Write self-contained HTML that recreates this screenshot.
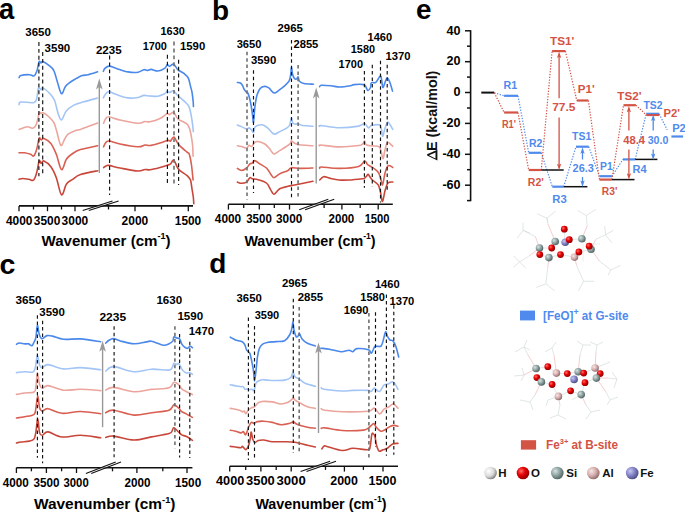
<!DOCTYPE html>
<html><head><meta charset="utf-8"><style>
html,body{margin:0;padding:0;background:#fff;}
body{width:685px;height:513px;overflow:hidden;font-family:"Liberation Sans",sans-serif;}
svg{display:block;}
text{font-family:"Liberation Sans",sans-serif;}
</style></head><body>
<svg width="685" height="513" viewBox="0 0 685 513">
<rect width="685" height="513" fill="#fff"/>
<path d="M19.1 77.6 C19.4 77.2 19.1 76.0 20.8 75.5 C22.6 75.0 27.4 74.6 29.6 74.7 C31.8 74.8 32.8 76.5 34.0 75.9 C35.2 75.3 36.0 73.4 36.9 71.0 C37.8 68.6 38.4 62.9 39.1 61.6 C39.8 60.3 40.4 63.0 41.0 63.0 C41.6 63.0 41.5 61.2 42.8 61.6 C44.1 62.0 46.8 63.8 48.6 65.2 C50.4 66.7 52.2 67.5 53.7 70.3 C55.2 73.1 56.1 78.1 57.4 82.0 C58.7 85.9 60.2 93.0 61.5 93.7 C62.8 94.4 63.9 88.4 65.4 86.4 C66.9 84.5 68.7 83.3 70.5 82.0 C72.3 80.7 74.5 79.5 76.4 78.4 C78.4 77.3 80.3 76.1 82.2 75.5 C84.1 74.9 85.4 75.3 88.0 74.7 C90.6 74.1 96.0 72.3 97.6 71.8" fill="none" stroke="#4a88ea" stroke-width="1.60" stroke-linejoin="round" stroke-linecap="round"/>
<path d="M19.1 104.7 C19.4 104.2 18.3 102.4 20.8 102.0 C23.3 101.6 31.3 103.3 34.0 102.5 C36.7 101.7 36.2 99.8 36.9 97.4 C37.6 95.0 37.7 89.2 38.4 87.9 C39.1 86.6 40.3 89.8 41.0 89.8 C41.7 89.8 41.3 87.2 42.8 87.9 C44.3 88.6 48.0 91.6 50.0 93.7 C52.0 95.8 53.1 97.0 54.5 100.3 C55.9 103.6 56.9 110.1 58.1 113.4 C59.3 116.7 60.2 120.3 61.5 120.0 C62.8 119.7 64.1 113.7 66.1 111.3 C68.1 108.9 70.5 107.0 73.4 105.4 C76.3 103.8 79.7 103.0 83.7 101.8 C87.7 100.6 95.3 98.7 97.6 98.1" fill="none" stroke="#a3c5f6" stroke-width="1.60" stroke-linejoin="round" stroke-linecap="round"/>
<path d="M19.2 129.4 C19.8 129.2 21.6 128.4 23.0 128.0 C24.4 127.6 26.1 126.8 27.7 126.8 C29.3 126.8 31.1 128.4 32.5 128.2 C33.9 127.9 35.0 126.9 35.9 125.3 C36.8 123.7 37.3 120.6 37.9 118.5 C38.5 116.4 38.7 113.3 39.3 112.5 C39.9 111.7 40.6 113.6 41.3 113.6 C41.9 113.6 41.9 112.1 43.2 112.7 C44.5 113.3 47.3 115.3 49.1 117.0 C50.9 118.7 52.7 120.4 54.0 122.9 C55.3 125.4 55.8 128.4 56.9 132.1 C58.0 135.8 59.5 144.2 60.8 145.3 C62.1 146.5 63.5 140.9 64.7 139.0 C65.9 137.1 66.4 135.5 68.1 134.1 C69.8 132.7 72.9 131.5 75.0 130.7 C77.1 129.9 78.3 130.1 80.5 129.4 C82.7 128.7 85.1 127.5 88.0 126.5 C90.9 125.5 96.1 123.7 97.7 123.1" fill="none" stroke="#eba59c" stroke-width="1.60" stroke-linejoin="round" stroke-linecap="round"/>
<path d="M19.0 152.8 C19.9 152.8 22.5 152.6 24.4 152.8 C26.3 153.1 29.1 153.8 30.6 154.3 C32.2 154.8 32.7 156.8 33.7 155.9 C34.7 155.0 35.9 151.9 36.8 148.9 C37.7 145.9 38.5 139.5 39.2 138.0 C39.9 136.5 40.4 139.9 41.2 140.0 C42.0 140.1 42.3 137.8 43.9 138.4 C45.5 139.0 48.8 140.8 50.9 143.4 C53.0 146.1 54.5 149.9 56.3 154.3 C58.1 158.7 59.8 168.8 61.5 169.6 C63.2 170.4 64.6 161.7 66.5 159.0 C68.4 156.3 70.4 155.1 72.7 153.5 C75.0 151.9 76.3 150.9 80.5 149.6 C84.7 148.3 94.8 146.3 97.7 145.7" fill="none" stroke="#d85f51" stroke-width="1.60" stroke-linejoin="round" stroke-linecap="round"/>
<path d="M19.0 179.3 C19.6 179.2 21.1 178.5 22.8 178.5 C24.5 178.5 27.2 179.1 29.0 179.3 C30.8 179.6 32.4 181.2 33.7 180.0 C35.0 178.8 35.9 175.5 36.8 172.3 C37.7 169.1 38.5 162.4 39.2 160.9 C39.9 159.4 40.4 163.4 41.2 163.4 C42.0 163.4 42.3 160.3 43.9 160.9 C45.5 161.5 48.8 164.0 50.9 166.8 C53.0 169.6 54.5 173.0 56.3 177.7 C58.1 182.4 59.8 193.8 61.5 194.9 C63.2 196.0 64.6 186.6 66.5 184.0 C68.4 181.4 70.4 180.9 72.7 179.3 C75.0 177.7 76.3 176.0 80.5 174.6 C84.7 173.2 94.8 171.3 97.7 170.7" fill="none" stroke="#c9473a" stroke-width="1.60" stroke-linejoin="round" stroke-linecap="round"/>
<path d="M103.3 71.4 C103.6 70.9 103.9 69.3 104.9 68.4 C105.9 67.5 107.2 66.1 109.1 66.1 C111.0 66.1 113.3 67.4 116.5 68.4 C119.7 69.4 124.5 71.3 128.1 71.9 C131.7 72.5 135.5 72.6 138.1 72.2 C140.7 71.8 142.4 70.0 143.9 69.7 C145.4 69.4 146.0 70.5 147.2 70.5 C148.4 70.5 149.5 69.3 151.3 69.4 C153.1 69.5 155.7 71.2 157.9 71.0 C160.1 70.8 163.0 69.5 164.6 68.4 C166.2 67.4 166.5 65.1 167.3 64.7 C168.1 64.3 168.4 66.4 169.5 66.3 C170.6 66.2 172.2 63.6 173.6 64.2 C175.0 64.8 176.3 68.3 178.0 69.8 C179.7 71.3 182.3 72.0 184.0 73.4 C185.7 74.8 187.2 75.9 188.3 78.1 C189.4 80.2 189.8 83.8 190.5 86.3 C191.2 88.8 191.8 90.7 192.2 93.3 C192.6 95.9 193.0 99.7 193.2 101.9 C193.4 104.1 193.4 105.8 193.4 106.6" fill="none" stroke="#4a88ea" stroke-width="1.60" stroke-linejoin="round" stroke-linecap="round"/>
<path d="M103.3 97.9 C103.7 97.2 104.8 94.8 105.8 93.7 C106.8 92.7 107.3 91.4 109.1 91.6 C110.9 91.8 113.3 93.5 116.5 94.6 C119.7 95.6 124.5 97.4 128.1 97.9 C131.7 98.4 135.5 97.9 138.1 97.5 C140.7 97.1 141.9 95.7 143.9 95.4 C145.9 95.2 147.7 95.9 150.0 96.0 C152.3 96.1 155.5 96.6 157.9 96.2 C160.3 95.8 163.0 94.5 164.6 93.7 C166.2 92.9 166.5 91.5 167.3 91.3 C168.1 91.1 168.4 92.6 169.5 92.5 C170.6 92.4 172.2 90.3 173.6 90.9 C175.0 91.5 176.1 94.1 178.0 95.9 C179.9 97.7 183.2 100.1 185.0 101.9 C186.8 103.7 188.0 104.5 189.0 106.6 C190.0 108.7 190.4 111.5 191.0 114.4 C191.6 117.3 192.1 120.9 192.5 123.8 C192.9 126.7 193.2 130.3 193.3 131.6" fill="none" stroke="#a3c5f6" stroke-width="1.60" stroke-linejoin="round" stroke-linecap="round"/>
<path d="M103.6 123.2 C103.9 122.5 104.6 120.1 105.5 119.0 C106.4 117.9 106.5 116.6 108.9 116.8 C111.3 117.0 115.2 118.9 120.0 120.0 C124.8 121.1 133.7 123.0 137.9 123.2 C142.1 123.5 143.0 121.7 145.0 121.5 C147.0 121.3 147.5 122.3 150.0 121.8 C152.5 121.3 157.1 119.9 160.0 118.5 C162.9 117.1 165.7 114.2 167.3 113.6 C168.9 113.0 168.4 114.9 169.5 114.7 C170.6 114.5 172.2 111.8 173.6 112.5 C175.0 113.2 176.3 117.4 178.0 119.0 C179.7 120.6 182.4 121.3 184.0 122.2 C185.6 123.1 186.6 123.5 187.5 124.5 C188.4 125.5 188.9 126.7 189.5 128.4 C190.1 130.1 190.5 131.9 191.0 134.7 C191.5 137.5 192.2 141.4 192.6 145.0 C192.9 148.6 193.0 154.4 193.1 156.3" fill="none" stroke="#eba59c" stroke-width="1.60" stroke-linejoin="round" stroke-linecap="round"/>
<path d="M103.6 146.8 C103.9 146.2 104.6 144.0 105.5 143.0 C106.4 142.0 106.5 140.8 108.9 141.0 C111.3 141.2 115.2 143.0 120.0 144.0 C124.8 145.0 133.7 146.6 137.9 146.8 C142.1 147.0 143.0 145.2 145.0 145.0 C147.0 144.8 147.5 145.8 150.0 145.5 C152.5 145.2 157.0 143.8 160.0 143.0 C163.0 142.2 166.2 140.7 167.9 140.4 C169.7 140.1 169.5 141.6 170.5 141.0 C171.5 140.4 172.6 136.5 173.9 137.1 C175.2 137.7 176.4 142.1 178.6 144.6 C180.8 147.1 185.3 150.5 187.1 152.1 C188.9 153.7 188.6 152.2 189.3 154.3 C190.0 156.5 190.9 160.7 191.5 165.0 C192.1 169.3 192.8 177.5 193.1 180.0" fill="none" stroke="#d85f51" stroke-width="1.60" stroke-linejoin="round" stroke-linecap="round"/>
<path d="M103.6 167.6 C104.0 167.3 105.1 166.4 106.0 166.0 C106.9 165.6 106.6 165.1 108.9 165.4 C111.2 165.7 115.2 167.1 120.0 168.0 C124.8 168.9 133.7 170.8 137.9 171.0 C142.1 171.2 143.0 169.7 145.0 169.5 C147.0 169.3 147.5 170.1 150.0 169.8 C152.5 169.5 157.0 168.3 160.0 167.5 C163.0 166.7 166.2 165.6 167.9 165.0 C169.7 164.4 169.5 164.8 170.5 164.0 C171.5 163.2 172.6 159.4 173.9 160.3 C175.2 161.2 176.4 166.7 178.6 169.3 C180.8 171.9 185.1 173.9 187.1 175.7 C189.1 177.5 189.7 177.8 190.5 180.0 C191.3 182.2 191.5 186.2 192.0 189.0 C192.5 191.8 193.0 194.5 193.3 197.0 C193.6 199.5 193.7 202.7 193.8 203.8" fill="none" stroke="#c9473a" stroke-width="1.60" stroke-linejoin="round" stroke-linecap="round"/>
<line x1="38.9" y1="42.0" x2="38.9" y2="176.2" stroke="#111" stroke-width="1.15" stroke-dasharray="3.9 3.0"/>
<line x1="42.7" y1="52.0" x2="42.7" y2="176.2" stroke="#111" stroke-width="1.15" stroke-dasharray="3.9 3.0"/>
<line x1="109.6" y1="55.6" x2="109.6" y2="195.0" stroke="#111" stroke-width="1.15" stroke-dasharray="3.9 3.0"/>
<line x1="167.4" y1="54.8" x2="167.4" y2="185.6" stroke="#111" stroke-width="1.15" stroke-dasharray="3.9 3.0"/>
<line x1="174.0" y1="41.6" x2="174.0" y2="186.0" stroke="#707070" stroke-width="1.6" stroke-dasharray="3.9 3.0"/>
<line x1="178.6" y1="59.8" x2="178.6" y2="185.0" stroke="#111" stroke-width="1.15" stroke-dasharray="3.9 3.0"/>
<line x1="99.3" y1="85.4" x2="99.3" y2="173.0" stroke="#999" stroke-width="1.4"/>
<polygon points="99.3,78.4 102.6,89.4 99.3,86.7 96.0,89.4" fill="#999"/>
<line x1="19.0" y1="205.9" x2="193.0" y2="205.9" stroke="#111" stroke-width="1.6"/>
<line x1="19.0" y1="205.9" x2="19.0" y2="211.2" stroke="#111" stroke-width="1.3"/>
<line x1="47.5" y1="205.9" x2="47.5" y2="211.2" stroke="#111" stroke-width="1.3"/>
<line x1="75.0" y1="205.9" x2="75.0" y2="211.2" stroke="#111" stroke-width="1.3"/>
<line x1="135.0" y1="205.9" x2="135.0" y2="211.2" stroke="#111" stroke-width="1.3"/>
<line x1="188.3" y1="205.9" x2="188.3" y2="211.2" stroke="#111" stroke-width="1.3"/>
<line x1="33.5" y1="205.9" x2="33.5" y2="209.5" stroke="#111" stroke-width="1.3"/>
<line x1="61.5" y1="205.9" x2="61.5" y2="209.5" stroke="#111" stroke-width="1.3"/>
<line x1="108.5" y1="205.9" x2="108.5" y2="209.5" stroke="#111" stroke-width="1.3"/>
<line x1="161.5" y1="205.9" x2="161.5" y2="209.5" stroke="#111" stroke-width="1.3"/>
<polygon points="82.7,210.6 112.5,201.0 118.6,201.0 88.8,210.6" fill="#fff" fill-opacity="0.55"/>
<line x1="82.7" y1="210.6" x2="112.5" y2="201.0" stroke="#111" stroke-width="1.1"/>
<line x1="88.8" y1="210.6" x2="118.6" y2="201.0" stroke="#111" stroke-width="1.1"/>
<text x="19.2" y="224.6" font-size="12.6" fill="#000" text-anchor="middle" textLength="26.6" lengthAdjust="spacingAndGlyphs" font-family="Liberation Sans, sans-serif" font-weight="bold" >4000</text>
<text x="47.1" y="224.6" font-size="12.6" fill="#000" text-anchor="middle" textLength="26.5" lengthAdjust="spacingAndGlyphs" font-family="Liberation Sans, sans-serif" font-weight="bold" >3500</text>
<text x="74.9" y="224.6" font-size="12.6" fill="#000" text-anchor="middle" textLength="26.6" lengthAdjust="spacingAndGlyphs" font-family="Liberation Sans, sans-serif" font-weight="bold" >3000</text>
<text x="134.9" y="224.6" font-size="12.6" fill="#000" text-anchor="middle" textLength="26.7" lengthAdjust="spacingAndGlyphs" font-family="Liberation Sans, sans-serif" font-weight="bold" >2000</text>
<text x="188.0" y="224.6" font-size="12.6" fill="#000" text-anchor="middle" textLength="26.4" lengthAdjust="spacingAndGlyphs" font-family="Liberation Sans, sans-serif" font-weight="bold" >1500</text>
<text x="38.1" y="36.0" font-size="11.5" fill="#000" text-anchor="middle" textLength="25.6" lengthAdjust="spacingAndGlyphs" font-family="Liberation Sans, sans-serif" font-weight="bold" >3650</text>
<text x="57.4" y="51.7" font-size="11.5" fill="#000" text-anchor="middle" textLength="25.6" lengthAdjust="spacingAndGlyphs" font-family="Liberation Sans, sans-serif" font-weight="bold" >3590</text>
<text x="108.8" y="54.0" font-size="11.5" fill="#000" text-anchor="middle" textLength="25.7" lengthAdjust="spacingAndGlyphs" font-family="Liberation Sans, sans-serif" font-weight="bold" >2235</text>
<text x="154.8" y="50.2" font-size="11.5" fill="#000" text-anchor="middle" textLength="24.3" lengthAdjust="spacingAndGlyphs" font-family="Liberation Sans, sans-serif" font-weight="bold" >1700</text>
<text x="172.7" y="35.3" font-size="11.5" fill="#000" text-anchor="middle" textLength="24.3" lengthAdjust="spacingAndGlyphs" font-family="Liberation Sans, sans-serif" font-weight="bold" >1630</text>
<text x="192.6" y="50.2" font-size="11.5" fill="#000" text-anchor="middle" textLength="25.3" lengthAdjust="spacingAndGlyphs" font-family="Liberation Sans, sans-serif" font-weight="bold" >1590</text>
<path d="M237.4 82.5 C237.9 82.6 239.7 82.5 240.5 83.0 C241.3 83.5 241.9 84.5 242.5 85.5 C243.1 86.5 243.4 88.0 244.0 89.0 C244.6 90.0 245.4 91.1 246.0 91.8 C246.6 92.5 247.2 92.0 247.8 93.0 C248.4 94.0 248.9 95.8 249.5 98.0 C250.1 100.2 250.7 103.2 251.2 106.0 C251.7 108.8 252.1 112.3 252.5 115.0 C252.9 117.7 253.1 123.7 253.5 122.2 C253.9 120.7 254.4 110.8 255.0 106.2 C255.6 101.6 256.3 97.4 257.2 94.5 C258.1 91.6 258.9 89.9 260.1 88.6 C261.3 87.2 263.1 86.5 264.5 86.4 C265.9 86.3 267.2 86.8 268.8 87.9 C270.4 89.0 272.3 92.6 274.0 93.0 C275.7 93.4 277.3 91.3 279.1 90.1 C280.9 88.9 283.2 87.3 284.9 85.7 C286.6 84.1 288.3 82.5 289.3 80.6 C290.3 78.6 290.4 76.3 290.8 74.0 C291.2 71.7 291.2 66.7 291.5 66.7 C291.8 66.7 292.0 72.0 292.5 74.0 C293.0 76.0 293.7 77.6 294.4 78.4 C295.1 79.2 296.0 79.3 296.6 79.1 C297.2 78.8 297.6 76.5 298.1 76.9 C298.6 77.3 298.5 80.2 299.5 81.3 C300.5 82.4 301.6 83.0 303.9 83.5 C306.2 84.0 311.8 84.1 313.4 84.2" fill="none" stroke="#4a88ea" stroke-width="1.60" stroke-linejoin="round" stroke-linecap="round"/>
<path d="M237.4 125.0 C238.1 125.3 240.1 125.9 241.6 126.6 C243.1 127.3 245.4 128.9 246.6 129.1 C247.8 129.3 248.2 127.8 249.0 127.9 C249.8 128.0 250.8 129.2 251.5 129.9 C252.2 130.7 252.9 132.8 253.5 132.4 C254.1 132.0 254.0 128.6 254.8 127.4 C255.6 126.2 256.8 125.7 258.2 125.3 C259.6 124.9 261.5 124.5 263.1 125.0 C264.8 125.5 266.3 126.8 268.1 128.3 C269.9 129.8 272.0 133.6 273.9 134.1 C275.8 134.6 277.6 132.6 279.7 131.6 C281.8 130.6 284.6 129.4 286.3 128.3 C288.0 127.2 288.9 126.7 289.7 125.0 C290.5 123.3 290.8 118.6 291.3 118.3 C291.9 118.0 292.2 122.3 293.0 123.3 C293.8 124.3 295.5 124.1 296.3 124.1 C297.1 124.1 297.2 123.1 298.0 123.3 C298.8 123.5 298.8 124.8 301.3 125.3 C303.8 125.8 311.0 126.1 312.9 126.3" fill="none" stroke="#a3c5f6" stroke-width="1.60" stroke-linejoin="round" stroke-linecap="round"/>
<path d="M237.4 145.7 C238.1 145.8 240.1 146.1 241.6 146.5 C243.1 146.9 245.4 148.4 246.6 148.2 C247.8 148.0 248.2 145.5 249.0 145.2 C249.8 144.9 250.5 147.0 251.5 146.5 C252.5 146.0 253.7 143.2 254.8 142.4 C255.9 141.6 256.5 141.2 258.2 141.5 C259.9 141.8 262.9 142.8 264.8 144.0 C266.7 145.2 268.3 147.3 269.8 149.0 C271.3 150.7 272.2 153.7 273.9 154.0 C275.5 154.3 277.6 151.8 279.7 150.6 C281.8 149.3 284.5 147.7 286.3 146.5 C288.1 145.3 289.7 144.2 290.5 143.2 C291.3 142.2 290.6 140.7 291.3 140.7 C292.0 140.7 293.2 142.5 294.6 143.2 C296.0 143.9 296.6 144.4 299.6 144.8 C302.7 145.2 310.7 145.5 312.9 145.7" fill="none" stroke="#eba59c" stroke-width="1.60" stroke-linejoin="round" stroke-linecap="round"/>
<path d="M237.4 168.4 C238.1 168.8 240.1 170.6 241.6 170.5 C243.1 170.4 245.2 169.1 246.6 168.0 C248.0 166.9 248.9 164.7 249.9 163.9 C250.9 163.1 251.6 163.7 252.4 163.1 C253.2 162.5 253.6 160.5 254.8 160.6 C256.0 160.7 257.9 162.7 259.8 163.9 C261.7 165.1 264.6 166.3 266.4 168.0 C268.2 169.7 269.4 172.3 270.6 173.9 C271.9 175.5 272.4 177.7 273.9 177.7 C275.4 177.7 277.3 175.1 279.7 173.9 C282.1 172.7 286.1 171.5 288.0 170.5 C289.9 169.5 289.4 168.0 291.3 167.7 C293.2 167.3 296.0 168.3 299.6 168.4 C303.2 168.5 310.7 168.1 312.9 168.0" fill="none" stroke="#d85f51" stroke-width="1.60" stroke-linejoin="round" stroke-linecap="round"/>
<path d="M237.4 182.1 C238.1 182.3 240.1 183.3 241.6 183.3 C243.1 183.3 245.2 183.0 246.6 182.1 C248.0 181.2 248.9 178.2 249.9 177.7 C250.9 177.1 251.0 178.5 252.4 178.8 C253.8 179.1 255.9 179.0 258.2 179.7 C260.5 180.4 264.3 181.3 266.4 183.0 C268.5 184.7 269.4 187.7 270.6 189.6 C271.9 191.5 272.4 194.3 273.9 194.2 C275.4 194.1 277.3 190.1 279.7 188.8 C282.1 187.5 285.5 186.9 288.0 186.3 C290.5 185.7 290.5 185.8 294.6 185.0 C298.8 184.2 309.8 181.9 312.9 181.3" fill="none" stroke="#c9473a" stroke-width="1.60" stroke-linejoin="round" stroke-linecap="round"/>
<path d="M319.6 86.7 C319.9 86.5 319.5 85.5 321.4 85.3 C323.3 85.1 327.9 85.5 331.0 85.8 C334.1 86.1 336.6 87.0 339.8 87.0 C343.0 87.0 348.0 86.2 350.4 85.8 C352.8 85.4 351.7 84.8 353.9 84.6 C356.1 84.4 361.5 84.2 363.5 84.6 C365.5 84.9 365.1 85.7 365.8 86.7 C366.5 87.7 367.1 90.4 367.9 90.5 C368.7 90.6 369.9 88.8 370.5 87.5 C371.1 86.2 370.5 83.7 371.4 82.8 C372.3 81.9 374.3 83.4 375.8 82.3 C377.3 81.2 379.2 76.5 380.2 76.1 C381.2 75.6 381.2 77.7 381.6 79.6 C382.0 81.5 382.2 87.0 382.8 87.5 C383.4 88.0 384.4 83.9 385.1 82.3 C385.8 80.7 386.4 77.9 387.2 77.9 C388.0 77.9 388.9 80.1 389.8 82.3 C390.7 84.5 392.1 89.6 392.5 91.1" fill="none" stroke="#4a88ea" stroke-width="1.60" stroke-linejoin="round" stroke-linecap="round"/>
<path d="M319.7 126.4 C319.9 126.2 317.4 125.3 320.7 125.5 C323.9 125.7 332.9 127.7 339.2 127.8 C345.5 127.9 354.5 126.8 358.7 126.1 C362.9 125.4 363.0 123.2 364.6 123.5 C366.2 123.8 367.4 127.7 368.5 128.0 C369.6 128.3 369.4 125.9 371.4 125.5 C373.3 125.1 378.3 123.7 380.2 125.5 C382.1 127.3 381.7 135.7 382.5 136.2 C383.3 136.7 384.1 130.7 385.0 128.4 C385.9 126.1 386.8 122.9 387.6 122.2 C388.4 121.5 389.0 123.3 389.9 124.5 C390.8 125.7 392.3 128.6 392.8 129.4" fill="none" stroke="#a3c5f6" stroke-width="1.60" stroke-linejoin="round" stroke-linecap="round"/>
<path d="M319.7 145.9 C319.9 145.8 317.4 144.8 320.7 145.0 C323.9 145.2 332.9 146.8 339.2 146.9 C345.5 147.0 354.8 146.0 358.7 145.5 C362.6 145.0 361.6 144.7 362.6 144.0 C363.6 143.3 364.0 140.9 364.6 141.1 C365.2 141.3 365.2 144.2 366.5 145.0 C367.8 145.8 370.3 145.6 372.4 145.9 C374.5 146.2 377.7 145.9 379.2 146.9 C380.7 147.9 380.5 149.9 381.2 151.8 C381.9 153.8 382.5 158.9 383.1 158.6 C383.7 158.3 384.2 152.5 385.0 149.8 C385.8 147.1 386.3 143.0 387.6 142.4 C388.9 141.8 391.9 145.7 392.8 146.3" fill="none" stroke="#eba59c" stroke-width="1.60" stroke-linejoin="round" stroke-linecap="round"/>
<path d="M319.7 168.4 C320.0 168.2 318.4 167.0 321.7 167.0 C324.9 167.0 333.0 168.5 339.2 168.4 C345.4 168.3 354.5 167.6 358.7 166.4 C362.9 165.2 363.1 161.4 364.6 161.1 C366.1 160.8 366.2 163.4 367.5 164.5 C368.8 165.6 370.6 166.1 372.4 167.4 C374.2 168.7 376.8 170.5 378.2 172.3 C379.6 174.1 379.9 176.0 380.6 178.1 C381.3 180.2 381.8 185.7 382.5 184.9 C383.2 184.1 384.1 176.4 385.0 173.2 C385.9 170.0 386.7 166.8 388.0 165.8 C389.3 164.8 392.0 167.1 392.8 167.4" fill="none" stroke="#d85f51" stroke-width="1.60" stroke-linejoin="round" stroke-linecap="round"/>
<path d="M319.7 180.0 C320.4 179.4 322.0 177.0 323.6 176.7 C325.2 176.4 326.9 177.5 329.5 178.1 C332.1 178.7 335.9 179.7 339.2 180.0 C342.4 180.3 345.1 180.2 349.0 180.0 C352.9 179.8 360.0 179.0 362.6 178.7 C365.2 178.4 364.0 178.5 364.6 178.1 C365.2 177.7 365.9 176.8 366.5 176.2 C367.1 175.5 367.6 174.2 368.1 174.2 C368.6 174.2 368.8 175.2 369.5 176.2 C370.2 177.2 370.9 178.6 372.4 180.0 C373.8 181.4 376.8 182.8 378.2 184.9 C379.6 187.0 379.9 189.9 380.6 192.7 C381.3 195.5 381.8 201.8 382.5 201.5 C383.2 201.2 384.1 193.9 385.0 190.8 C385.9 187.7 386.7 184.5 388.0 183.0 C389.3 181.5 392.0 182.2 392.8 182.0" fill="none" stroke="#c9473a" stroke-width="1.60" stroke-linejoin="round" stroke-linecap="round"/>
<line x1="247.0" y1="51.8" x2="247.0" y2="199.5" stroke="#707070" stroke-width="1.6" stroke-dasharray="3.5 2.9"/>
<line x1="253.5" y1="70.3" x2="253.5" y2="192.9" stroke="#111" stroke-width="1.15" stroke-dasharray="3.5 2.9"/>
<line x1="291.5" y1="40.1" x2="291.5" y2="198.8" stroke="#111" stroke-width="1.15" stroke-dasharray="3.5 2.9"/>
<line x1="298.1" y1="65.0" x2="298.1" y2="199.6" stroke="#707070" stroke-width="1.6" stroke-dasharray="3.5 2.9"/>
<line x1="364.4" y1="70.9" x2="364.4" y2="187.8" stroke="#111" stroke-width="1.15" stroke-dasharray="3.5 2.9"/>
<line x1="372.3" y1="64.7" x2="372.3" y2="186.5" stroke="#111" stroke-width="1.15" stroke-dasharray="3.5 2.9"/>
<line x1="380.5" y1="60.7" x2="380.5" y2="202.5" stroke="#111" stroke-width="1.15" stroke-dasharray="3.5 2.9"/>
<line x1="387.2" y1="64.7" x2="387.2" y2="192.7" stroke="#111" stroke-width="1.15" stroke-dasharray="3.5 2.9"/>
<line x1="316.2" y1="94.5" x2="316.2" y2="183.5" stroke="#999" stroke-width="1.4"/>
<polygon points="316.2,87.5 319.5,98.5 316.2,95.8 312.9,98.5" fill="#999"/>
<line x1="228.4" y1="204.3" x2="392.8" y2="204.3" stroke="#111" stroke-width="1.6"/>
<line x1="228.4" y1="204.3" x2="228.4" y2="209.6" stroke="#111" stroke-width="1.3"/>
<line x1="259.3" y1="204.3" x2="259.3" y2="209.6" stroke="#111" stroke-width="1.3"/>
<line x1="289.5" y1="204.3" x2="289.5" y2="209.6" stroke="#111" stroke-width="1.3"/>
<line x1="341.9" y1="204.3" x2="341.9" y2="209.6" stroke="#111" stroke-width="1.3"/>
<line x1="378.2" y1="204.3" x2="378.2" y2="209.6" stroke="#111" stroke-width="1.3"/>
<line x1="243.7" y1="204.3" x2="243.7" y2="207.9" stroke="#111" stroke-width="1.3"/>
<line x1="274.3" y1="204.3" x2="274.3" y2="207.9" stroke="#111" stroke-width="1.3"/>
<line x1="324.1" y1="204.3" x2="324.1" y2="207.9" stroke="#111" stroke-width="1.3"/>
<line x1="360.2" y1="204.3" x2="360.2" y2="207.9" stroke="#111" stroke-width="1.3"/>
<polygon points="299.2,209.7 328.3,199.2 334.2,199.2 305.1,209.7" fill="#fff" fill-opacity="0.55"/>
<line x1="299.2" y1="209.7" x2="328.3" y2="199.2" stroke="#111" stroke-width="1.1"/>
<line x1="305.1" y1="209.7" x2="334.2" y2="199.2" stroke="#111" stroke-width="1.1"/>
<text x="228.0" y="223.2" font-size="12.6" fill="#000" text-anchor="middle" textLength="26.4" lengthAdjust="spacingAndGlyphs" font-family="Liberation Sans, sans-serif" font-weight="bold" >4000</text>
<text x="259.0" y="223.2" font-size="12.6" fill="#000" text-anchor="middle" textLength="25.6" lengthAdjust="spacingAndGlyphs" font-family="Liberation Sans, sans-serif" font-weight="bold" >3500</text>
<text x="289.2" y="223.2" font-size="12.6" fill="#000" text-anchor="middle" textLength="26.3" lengthAdjust="spacingAndGlyphs" font-family="Liberation Sans, sans-serif" font-weight="bold" >3000</text>
<text x="341.4" y="223.2" font-size="12.6" fill="#000" text-anchor="middle" textLength="25.7" lengthAdjust="spacingAndGlyphs" font-family="Liberation Sans, sans-serif" font-weight="bold" >2000</text>
<text x="377.1" y="223.2" font-size="12.6" fill="#000" text-anchor="middle" textLength="24.9" lengthAdjust="spacingAndGlyphs" font-family="Liberation Sans, sans-serif" font-weight="bold" >1500</text>
<text x="249.1" y="47.6" font-size="11.5" fill="#000" text-anchor="middle" textLength="24.9" lengthAdjust="spacingAndGlyphs" font-family="Liberation Sans, sans-serif" font-weight="bold" >3650</text>
<text x="263.6" y="64.2" font-size="11.5" fill="#000" text-anchor="middle" textLength="25.2" lengthAdjust="spacingAndGlyphs" font-family="Liberation Sans, sans-serif" font-weight="bold" >3590</text>
<text x="290.2" y="32.4" font-size="11.5" fill="#000" text-anchor="middle" textLength="25.3" lengthAdjust="spacingAndGlyphs" font-family="Liberation Sans, sans-serif" font-weight="bold" >2965</text>
<text x="305.9" y="47.6" font-size="11.5" fill="#000" text-anchor="middle" textLength="24.9" lengthAdjust="spacingAndGlyphs" font-family="Liberation Sans, sans-serif" font-weight="bold" >2855</text>
<text x="350.8" y="68.2" font-size="11.5" fill="#000" text-anchor="middle" textLength="24.4" lengthAdjust="spacingAndGlyphs" font-family="Liberation Sans, sans-serif" font-weight="bold" >1700</text>
<text x="362.9" y="53.0" font-size="11.5" fill="#000" text-anchor="middle" textLength="24.2" lengthAdjust="spacingAndGlyphs" font-family="Liberation Sans, sans-serif" font-weight="bold" >1580</text>
<text x="379.8" y="41.4" font-size="11.5" fill="#000" text-anchor="middle" textLength="24.5" lengthAdjust="spacingAndGlyphs" font-family="Liberation Sans, sans-serif" font-weight="bold" >1460</text>
<text x="397.9" y="60.0" font-size="11.5" fill="#000" text-anchor="middle" textLength="25.0" lengthAdjust="spacingAndGlyphs" font-family="Liberation Sans, sans-serif" font-weight="bold" >1370</text>
<path d="M16.5 344.3 C17.0 344.1 17.9 343.1 19.3 343.0 C20.7 342.9 23.3 343.8 24.8 343.9 C26.3 344.0 27.3 343.6 28.5 343.9 C29.7 344.2 31.0 346.0 31.9 345.7 C32.8 345.4 33.4 343.4 34.1 342.0 C34.8 340.6 35.4 340.2 35.9 337.4 C36.4 334.6 36.8 325.9 37.4 325.4 C38.0 324.9 38.5 332.4 39.3 334.6 C40.0 336.8 40.6 338.5 41.9 338.7 C43.2 338.9 45.2 336.0 47.0 335.6 C48.8 335.2 49.8 335.5 52.6 336.1 C55.4 336.7 59.1 338.8 63.7 339.3 C68.3 339.8 74.2 338.5 80.4 338.9 C86.6 339.3 97.3 341.2 100.7 341.7" fill="none" stroke="#4a88ea" stroke-width="1.60" stroke-linejoin="round" stroke-linecap="round"/>
<path d="M16.5 372.6 C17.9 372.5 22.0 371.8 24.8 371.7 C27.6 371.6 31.3 372.9 33.1 372.0 C34.9 371.1 34.9 368.9 35.6 366.1 C36.3 363.3 36.7 355.1 37.4 355.0 C38.1 354.9 38.8 363.1 39.6 365.2 C40.4 367.3 41.0 367.7 42.4 367.6 C43.8 367.5 44.5 364.4 48.0 364.6 C51.5 364.8 58.3 368.4 63.7 368.9 C69.1 369.4 74.2 367.5 80.4 367.6 C86.6 367.8 97.3 369.4 100.7 369.8" fill="none" stroke="#a3c5f6" stroke-width="1.60" stroke-linejoin="round" stroke-linecap="round"/>
<path d="M16.5 394.4 C17.9 394.2 21.9 393.4 24.8 393.0 C27.7 392.6 32.2 393.1 34.1 392.0 C36.0 390.9 35.4 389.6 35.9 386.5 C36.4 383.4 36.8 373.8 37.4 373.5 C38.0 373.2 38.8 382.1 39.6 384.6 C40.4 387.1 41.0 388.1 42.4 388.3 C43.8 388.5 44.5 385.3 48.0 385.6 C51.5 385.9 58.3 389.6 63.7 390.2 C69.1 390.8 74.2 389.2 80.4 389.3 C86.6 389.4 97.3 390.4 100.7 390.6" fill="none" stroke="#eba59c" stroke-width="1.60" stroke-linejoin="round" stroke-linecap="round"/>
<path d="M16.5 418.0 C17.9 417.8 21.9 417.3 24.8 416.7 C27.7 416.1 32.2 415.8 34.1 414.3 C36.0 412.8 35.3 410.9 35.9 407.8 C36.5 404.7 37.2 395.7 37.8 395.7 C38.4 395.7 38.8 405.2 39.6 407.8 C40.4 410.4 41.0 411.0 42.4 411.1 C43.8 411.2 44.8 408.3 48.0 408.7 C51.2 409.1 56.5 412.8 61.9 413.3 C67.3 413.8 73.9 411.4 80.4 411.5 C86.9 411.6 97.3 413.3 100.7 413.7" fill="none" stroke="#d85f51" stroke-width="1.60" stroke-linejoin="round" stroke-linecap="round"/>
<path d="M16.5 443.0 C17.3 442.8 19.0 442.3 21.1 442.0 C23.2 441.7 27.2 441.6 29.4 441.1 C31.6 440.6 33.0 440.4 34.1 438.9 C35.2 437.4 35.3 435.2 35.9 431.9 C36.5 428.6 37.2 418.8 37.8 418.9 C38.4 419.0 38.8 430.1 39.6 432.8 C40.4 435.5 41.0 435.4 42.4 435.2 C43.8 435.0 44.8 431.6 48.0 431.9 C51.2 432.2 56.5 436.4 61.9 437.0 C67.3 437.6 73.9 435.1 80.4 435.2 C86.9 435.3 97.3 437.4 100.7 437.8" fill="none" stroke="#c9473a" stroke-width="1.60" stroke-linejoin="round" stroke-linecap="round"/>
<path d="M105.7 343.2 C106.2 342.8 107.3 341.3 108.6 340.5 C109.9 339.7 111.5 338.5 113.5 338.6 C115.5 338.7 116.9 340.0 120.3 340.9 C123.7 341.8 129.6 343.6 134.0 343.8 C138.4 344.0 143.7 342.3 146.6 341.9 C149.5 341.5 148.7 340.8 151.5 341.3 C154.3 341.9 160.3 344.8 163.2 345.2 C166.1 345.6 167.4 344.5 169.0 343.8 C170.6 343.1 172.1 342.0 172.9 340.9 C173.7 339.8 173.2 337.5 173.9 337.0 C174.6 336.5 175.8 337.7 176.8 338.0 C177.8 338.3 178.9 338.0 179.7 339.0 C180.5 340.0 180.9 342.4 181.7 343.8 C182.5 345.2 183.6 346.4 184.6 347.1 C185.6 347.9 186.6 348.5 187.5 348.3 C188.4 348.1 189.3 346.3 190.1 346.2 C190.9 346.1 192.0 347.4 192.4 347.7" fill="none" stroke="#4a88ea" stroke-width="1.60" stroke-linejoin="round" stroke-linecap="round"/>
<path d="M105.7 371.1 C107.0 370.4 108.8 366.5 113.5 366.6 C118.2 366.7 127.7 371.3 134.0 371.7 C140.3 372.1 145.7 369.5 151.5 369.2 C157.3 368.9 165.5 370.5 169.0 370.1 C172.5 369.7 171.6 368.1 172.4 367.0 C173.2 365.9 173.2 363.7 173.9 363.3 C174.6 362.9 175.5 364.4 176.3 364.5 C177.1 364.6 177.9 363.3 178.6 363.6 C179.3 363.9 179.8 365.2 180.5 366.3 C181.2 367.4 181.5 368.9 182.5 370.0 C183.5 371.1 185.4 372.7 186.6 373.1 C187.8 373.5 188.5 372.4 189.5 372.6 C190.5 372.8 191.9 374.1 192.4 374.4" fill="none" stroke="#a3c5f6" stroke-width="1.60" stroke-linejoin="round" stroke-linecap="round"/>
<path d="M105.7 390.1 C107.0 389.7 108.8 387.1 113.5 387.4 C118.2 387.7 127.7 391.4 134.0 391.7 C140.3 392.0 145.7 390.0 151.5 389.4 C157.3 388.8 165.3 389.0 169.0 387.8 C172.7 386.6 172.3 382.8 173.9 382.3 C175.5 381.8 177.5 383.8 178.8 384.9 C180.1 386.0 180.4 387.7 181.7 388.8 C183.0 389.9 184.8 390.7 186.6 391.7 C188.4 392.7 191.4 394.1 192.4 394.6" fill="none" stroke="#eba59c" stroke-width="1.60" stroke-linejoin="round" stroke-linecap="round"/>
<path d="M105.7 412.7 C107.0 412.3 108.8 409.8 113.5 410.2 C118.2 410.6 127.7 414.7 134.0 415.1 C140.3 415.5 145.7 413.5 151.5 412.7 C157.3 411.9 165.3 411.5 169.0 410.2 C172.7 408.9 172.3 405.2 173.9 404.9 C175.5 404.6 177.5 407.1 178.8 408.2 C180.1 409.3 180.4 410.6 181.7 411.6 C183.0 412.6 184.8 413.1 186.6 414.1 C188.4 415.1 191.4 416.8 192.4 417.4" fill="none" stroke="#d85f51" stroke-width="1.60" stroke-linejoin="round" stroke-linecap="round"/>
<path d="M105.7 437.5 C107.0 437.3 108.8 435.7 113.5 436.1 C118.2 436.5 127.7 439.9 134.0 440.0 C140.3 440.1 145.7 438.0 151.5 436.9 C157.3 435.8 165.6 434.6 169.0 433.6 C172.4 432.6 171.2 432.0 172.0 431.0 C172.8 430.0 172.8 427.5 173.9 427.7 C175.0 427.9 177.5 431.0 178.8 432.2 C180.1 433.4 180.4 434.2 181.7 434.9 C183.0 435.6 184.8 435.6 186.6 436.5 C188.4 437.4 191.4 439.8 192.4 440.4" fill="none" stroke="#c9473a" stroke-width="1.60" stroke-linejoin="round" stroke-linecap="round"/>
<line x1="37.4" y1="315.2" x2="37.4" y2="457.8" stroke="#111" stroke-width="1.15" stroke-dasharray="3.5 2.9"/>
<line x1="42.6" y1="320.7" x2="42.6" y2="463.3" stroke="#111" stroke-width="1.15" stroke-dasharray="3.5 2.9"/>
<line x1="114.1" y1="326.3" x2="114.1" y2="457.2" stroke="#111" stroke-width="1.15" stroke-dasharray="3.5 2.9"/>
<line x1="174.9" y1="326.3" x2="174.9" y2="448.2" stroke="#707070" stroke-width="1.6" stroke-dasharray="3.5 2.9"/>
<line x1="179.6" y1="334.0" x2="179.6" y2="457.5" stroke="#111" stroke-width="1.15" stroke-dasharray="3.5 2.9"/>
<line x1="189.8" y1="341.8" x2="189.8" y2="458.0" stroke="#111" stroke-width="1.15" stroke-dasharray="3.5 2.9"/>
<line x1="102.6" y1="347.8" x2="102.6" y2="427.2" stroke="#999" stroke-width="1.4"/>
<polygon points="102.6,340.8 105.9,351.8 102.6,349.1 99.3,351.8" fill="#999"/>
<line x1="16.4" y1="467.7" x2="192.4" y2="467.7" stroke="#111" stroke-width="1.6"/>
<line x1="16.4" y1="467.7" x2="16.4" y2="473.0" stroke="#111" stroke-width="1.3"/>
<line x1="46.4" y1="467.7" x2="46.4" y2="473.0" stroke="#111" stroke-width="1.3"/>
<line x1="76.5" y1="467.7" x2="76.5" y2="473.0" stroke="#111" stroke-width="1.3"/>
<line x1="136.9" y1="467.7" x2="136.9" y2="473.0" stroke="#111" stroke-width="1.3"/>
<line x1="187.0" y1="467.7" x2="187.0" y2="473.0" stroke="#111" stroke-width="1.3"/>
<line x1="31.4" y1="467.7" x2="31.4" y2="471.3" stroke="#111" stroke-width="1.3"/>
<line x1="61.6" y1="467.7" x2="61.6" y2="471.3" stroke="#111" stroke-width="1.3"/>
<line x1="112.5" y1="467.7" x2="112.5" y2="471.3" stroke="#111" stroke-width="1.3"/>
<line x1="162.8" y1="467.7" x2="162.8" y2="471.3" stroke="#111" stroke-width="1.3"/>
<polygon points="85.9,473.4 115.7,462.0 121.0,462.0 91.2,473.4" fill="#fff" fill-opacity="0.55"/>
<line x1="85.9" y1="473.4" x2="115.7" y2="462.0" stroke="#111" stroke-width="1.1"/>
<line x1="91.2" y1="473.4" x2="121.0" y2="462.0" stroke="#111" stroke-width="1.1"/>
<text x="15.8" y="487.0" font-size="12.6" fill="#000" text-anchor="middle" textLength="26.1" lengthAdjust="spacingAndGlyphs" font-family="Liberation Sans, sans-serif" font-weight="bold" >4000</text>
<text x="46.5" y="487.0" font-size="12.6" fill="#000" text-anchor="middle" textLength="26.0" lengthAdjust="spacingAndGlyphs" font-family="Liberation Sans, sans-serif" font-weight="bold" >3500</text>
<text x="76.1" y="487.0" font-size="12.6" fill="#000" text-anchor="middle" textLength="25.2" lengthAdjust="spacingAndGlyphs" font-family="Liberation Sans, sans-serif" font-weight="bold" >3000</text>
<text x="137.6" y="487.0" font-size="12.6" fill="#000" text-anchor="middle" textLength="26.0" lengthAdjust="spacingAndGlyphs" font-family="Liberation Sans, sans-serif" font-weight="bold" >2000</text>
<text x="188.1" y="487.0" font-size="12.6" fill="#000" text-anchor="middle" textLength="26.2" lengthAdjust="spacingAndGlyphs" font-family="Liberation Sans, sans-serif" font-weight="bold" >1500</text>
<text x="28.5" y="304.0" font-size="11.5" fill="#000" text-anchor="middle" textLength="26.2" lengthAdjust="spacingAndGlyphs" font-family="Liberation Sans, sans-serif" font-weight="bold" >3650</text>
<text x="52.1" y="316.0" font-size="11.5" fill="#000" text-anchor="middle" textLength="25.6" lengthAdjust="spacingAndGlyphs" font-family="Liberation Sans, sans-serif" font-weight="bold" >3590</text>
<text x="112.8" y="321.0" font-size="11.5" fill="#000" text-anchor="middle" textLength="26.7" lengthAdjust="spacingAndGlyphs" font-family="Liberation Sans, sans-serif" font-weight="bold" >2235</text>
<text x="169.3" y="304.3" font-size="11.5" fill="#000" text-anchor="middle" textLength="25.8" lengthAdjust="spacingAndGlyphs" font-family="Liberation Sans, sans-serif" font-weight="bold" >1630</text>
<text x="190.3" y="320.3" font-size="11.5" fill="#000" text-anchor="middle" textLength="25.8" lengthAdjust="spacingAndGlyphs" font-family="Liberation Sans, sans-serif" font-weight="bold" >1590</text>
<text x="201.4" y="335.3" font-size="11.5" fill="#000" text-anchor="middle" textLength="25.3" lengthAdjust="spacingAndGlyphs" font-family="Liberation Sans, sans-serif" font-weight="bold" >1470</text>
<path d="M230.3 337.2 C231.1 337.6 233.4 339.0 235.0 339.7 C236.6 340.4 238.7 340.7 240.0 341.1 C241.3 341.5 242.2 341.6 243.0 342.3 C243.8 343.0 244.4 343.9 245.0 345.1 C245.6 346.4 245.9 348.7 246.5 349.8 C247.1 350.9 247.9 351.1 248.5 351.8 C249.1 352.5 249.4 352.0 250.0 353.8 C250.6 355.6 251.4 359.7 252.0 362.6 C252.6 365.5 253.1 368.0 253.5 371.1 C253.9 374.2 254.1 381.0 254.5 381.0 C254.9 381.0 255.5 375.1 256.0 371.0 C256.5 366.9 256.9 360.4 257.5 356.6 C258.1 352.8 258.6 350.2 259.5 348.1 C260.4 346.0 261.6 344.9 263.0 343.9 C264.4 342.9 265.9 342.7 268.0 342.3 C270.1 341.9 273.0 341.9 275.8 341.6 C278.6 341.3 282.2 341.9 284.6 340.7 C287.0 339.5 288.7 336.7 289.9 334.5 C291.1 332.3 291.5 329.6 292.0 327.5 C292.5 325.4 292.7 321.6 293.0 321.9 C293.3 322.2 293.4 326.9 293.9 329.3 C294.4 331.7 295.4 335.1 296.0 336.3 C296.6 337.5 297.1 337.0 297.7 336.6 C298.3 336.2 298.8 333.3 299.5 333.7 C300.2 334.1 300.8 337.3 302.1 338.9 C303.4 340.5 305.2 342.1 307.4 343.3 C309.6 344.5 314.0 345.5 315.3 345.9" fill="none" stroke="#4a88ea" stroke-width="1.60" stroke-linejoin="round" stroke-linecap="round"/>
<path d="M230.3 384.7 C231.2 384.9 234.2 385.5 236.0 385.9 C237.8 386.2 239.8 386.7 241.0 386.8 C242.2 386.9 242.3 386.2 243.0 386.6 C243.7 387.0 244.3 388.8 245.0 389.2 C245.7 389.6 246.3 388.9 247.0 389.0 C247.7 389.1 248.2 389.9 249.0 389.9 C249.8 389.9 251.2 389.1 252.0 389.2 C252.8 389.3 253.3 391.5 254.0 390.5 C254.7 389.5 255.2 384.8 256.0 383.2 C256.8 381.6 257.8 381.4 259.0 380.8 C260.2 380.2 261.6 379.9 263.0 379.8 C264.4 379.7 265.2 380.0 267.1 380.1 C269.0 380.2 271.2 380.5 274.1 380.5 C277.0 380.5 281.8 380.6 284.6 380.1 C287.4 379.6 289.3 378.8 290.7 377.5 C292.1 376.2 292.3 372.3 293.0 372.2 C293.7 372.1 293.9 375.5 294.8 376.6 C295.7 377.7 296.8 377.5 298.6 378.7 C300.4 379.9 302.8 382.4 305.6 383.6 C308.4 384.9 313.7 385.8 315.3 386.2" fill="none" stroke="#a3c5f6" stroke-width="1.60" stroke-linejoin="round" stroke-linecap="round"/>
<path d="M230.3 408.4 C231.2 408.5 233.8 408.9 235.5 409.3 C237.2 409.7 239.6 410.3 240.8 410.7 C242.0 411.1 241.9 411.8 242.5 411.9 C243.1 411.9 243.8 410.7 244.3 411.0 C244.8 411.3 245.1 413.8 245.7 413.7 C246.3 413.6 246.9 411.7 247.8 410.7 C248.7 409.7 250.1 408.6 251.3 407.9 C252.5 407.2 253.6 407.6 254.8 406.7 C256.0 405.8 256.8 403.5 258.3 402.6 C259.8 401.7 261.3 401.5 263.6 401.4 C265.9 401.3 269.4 401.5 272.3 401.9 C275.2 402.3 278.5 403.9 281.1 404.0 C283.7 404.1 286.4 403.0 288.1 402.3 C289.9 401.6 290.7 400.3 291.6 399.6 C292.5 398.9 292.8 397.8 293.4 397.9 C294.0 398.0 293.9 399.3 295.1 400.2 C296.3 401.1 298.3 402.0 300.4 403.1 C302.4 404.2 304.9 405.8 307.4 406.7 C309.9 407.6 314.0 408.1 315.3 408.4" fill="none" stroke="#eba59c" stroke-width="1.60" stroke-linejoin="round" stroke-linecap="round"/>
<path d="M230.3 430.3 C231.2 430.4 233.8 430.8 235.5 431.2 C237.2 431.6 239.5 432.8 240.8 432.9 C242.1 433.0 242.6 431.4 243.4 431.7 C244.2 432.0 244.8 435.5 245.7 434.7 C246.6 433.9 247.8 428.9 248.7 426.8 C249.6 424.8 250.4 423.0 251.3 422.4 C252.2 421.8 252.9 423.4 253.9 423.3 C254.9 423.2 255.8 422.0 257.4 421.6 C259.0 421.2 261.1 421.1 263.6 421.2 C266.1 421.3 269.4 421.8 272.3 422.4 C275.2 423.0 278.2 424.5 281.1 424.7 C284.0 424.9 287.8 423.8 289.9 423.3 C291.9 422.8 292.2 421.8 293.4 421.9 C294.6 422.0 294.6 423.3 296.9 424.2 C299.2 425.1 304.3 426.5 307.4 427.2 C310.5 427.9 314.0 428.0 315.3 428.2" fill="none" stroke="#d85f51" stroke-width="1.60" stroke-linejoin="round" stroke-linecap="round"/>
<path d="M230.3 446.4 C231.2 446.5 233.8 446.8 235.5 447.0 C237.2 447.2 239.6 447.9 240.8 447.8 C242.0 447.7 241.7 446.1 242.5 446.4 C243.3 446.7 244.7 449.8 245.7 449.6 C246.7 449.4 247.9 447.2 248.7 445.2 C249.5 443.1 250.0 439.5 250.4 437.3 C250.8 435.1 250.9 431.8 251.3 432.1 C251.7 432.4 252.1 437.4 252.7 439.1 C253.3 440.9 253.9 442.4 254.8 442.6 C255.7 442.8 256.8 440.9 258.3 440.5 C259.8 440.1 261.3 439.8 263.6 440.0 C265.9 440.2 269.1 441.4 272.3 441.7 C275.5 442.0 279.0 441.6 282.8 441.7 C286.6 441.8 291.0 441.6 295.1 442.2 C299.2 442.8 304.0 444.4 307.4 445.2 C310.8 446.0 314.0 446.7 315.3 447.0" fill="none" stroke="#c9473a" stroke-width="1.60" stroke-linejoin="round" stroke-linecap="round"/>
<path d="M320.7 348.2 C322.2 348.4 326.1 348.6 329.5 349.2 C332.9 349.8 337.9 351.5 341.2 351.7 C344.4 351.9 347.1 350.2 349.0 350.2 C350.9 350.2 351.6 352.0 352.9 351.7 C354.2 351.4 354.2 348.9 356.8 348.6 C359.4 348.3 366.1 349.1 368.5 349.8 C370.9 350.6 370.4 353.5 371.4 353.1 C372.4 352.7 373.5 348.4 374.3 347.3 C375.1 346.2 375.2 346.5 376.3 346.3 C377.4 346.1 380.0 347.2 381.2 345.9 C382.4 344.6 383.0 340.9 383.7 338.5 C384.4 336.1 385.0 332.0 385.6 331.7 C386.2 331.4 386.9 335.1 387.6 336.5 C388.3 337.9 389.0 339.3 389.9 340.0 C390.8 340.7 391.8 339.8 392.8 340.8 C393.8 341.9 394.8 343.6 395.8 346.3 C396.8 349.0 398.2 355.2 398.7 357.0" fill="none" stroke="#4a88ea" stroke-width="1.60" stroke-linejoin="round" stroke-linecap="round"/>
<path d="M321.2 387.6 C321.7 387.9 320.5 388.7 324.0 389.3 C327.5 389.9 337.4 390.8 342.2 391.0 C347.0 391.2 348.6 390.5 352.9 390.4 C357.2 390.3 364.8 390.2 367.9 390.4 C370.9 390.6 370.2 391.9 371.2 391.5 C372.2 391.1 373.3 388.6 374.0 388.2 C374.7 387.8 374.6 388.3 375.5 388.9 C376.4 389.4 378.3 392.1 379.7 391.5 C381.1 390.9 382.6 386.2 384.0 385.0 C385.4 383.8 386.9 384.5 388.3 384.0 C389.7 383.5 391.4 381.7 392.6 381.8 C393.8 381.9 394.5 383.4 395.4 384.6 C396.3 385.9 397.6 388.5 398.0 389.3" fill="none" stroke="#a3c5f6" stroke-width="1.60" stroke-linejoin="round" stroke-linecap="round"/>
<path d="M321.2 408.6 C321.8 408.9 321.5 409.8 325.0 410.3 C328.5 410.8 335.1 411.7 342.2 411.8 C349.3 411.9 362.5 411.8 367.9 411.2 C373.3 410.6 372.4 407.7 374.4 408.2 C376.4 408.7 378.1 413.9 379.7 414.0 C381.3 414.1 382.4 410.4 384.0 409.1 C385.6 407.9 387.8 407.4 389.4 406.5 C390.9 405.6 391.9 403.6 393.3 403.9 C394.7 404.2 397.2 407.5 398.0 408.2" fill="none" stroke="#eba59c" stroke-width="1.60" stroke-linejoin="round" stroke-linecap="round"/>
<path d="M321.2 428.4 C321.8 428.3 321.5 427.5 325.0 427.9 C328.5 428.2 335.8 430.1 342.2 430.5 C348.6 430.9 359.1 430.6 363.6 430.1 C368.1 429.6 367.6 428.4 369.0 427.5 C370.4 426.6 371.4 425.3 372.2 424.7 C373.0 424.1 373.3 423.1 374.0 423.6 C374.7 424.1 375.4 426.2 376.5 427.5 C377.6 428.8 379.4 430.8 380.8 431.2 C382.2 431.6 383.5 430.5 385.1 429.7 C386.7 428.9 389.0 426.9 390.5 426.2 C392.0 425.5 392.9 425.4 394.1 425.4 C395.4 425.4 397.4 426.1 398.0 426.2" fill="none" stroke="#d85f51" stroke-width="1.60" stroke-linejoin="round" stroke-linecap="round"/>
<path d="M321.8 449.0 C322.2 448.5 323.3 446.7 324.0 446.2 C324.7 445.7 323.1 445.5 326.1 446.2 C329.1 446.9 337.7 450.1 342.2 450.5 C346.7 450.9 348.6 448.4 352.9 448.3 C357.2 448.2 365.0 450.1 367.9 449.8 C370.8 449.6 369.5 449.4 370.1 446.8 C370.8 444.2 371.3 436.5 371.8 434.4 C372.3 432.2 372.8 433.5 373.3 433.9 C373.8 434.2 374.5 434.6 375.0 436.5 C375.5 438.4 375.8 442.7 376.5 445.1 C377.2 447.5 378.0 450.3 379.1 451.1 C380.2 451.9 381.6 450.3 383.0 449.8 C384.4 449.3 385.7 449.3 387.3 448.3 C388.9 447.3 390.8 444.8 392.6 444.0 C394.4 443.2 397.1 443.5 398.0 443.4" fill="none" stroke="#c9473a" stroke-width="1.60" stroke-linejoin="round" stroke-linecap="round"/>
<line x1="248.4" y1="317.6" x2="248.4" y2="460.1" stroke="#111" stroke-width="1.15" stroke-dasharray="3.5 2.9"/>
<line x1="254.5" y1="325.9" x2="254.5" y2="459.2" stroke="#111" stroke-width="1.15" stroke-dasharray="3.5 2.9"/>
<line x1="293.3" y1="298.8" x2="293.3" y2="453.1" stroke="#111" stroke-width="1.15" stroke-dasharray="3.5 2.9"/>
<line x1="299.2" y1="307.0" x2="299.2" y2="452.2" stroke="#707070" stroke-width="1.6" stroke-dasharray="3.5 2.9"/>
<line x1="368.9" y1="313.1" x2="368.9" y2="460.1" stroke="#707070" stroke-width="1.6" stroke-dasharray="3.5 2.9"/>
<line x1="375.5" y1="312.2" x2="375.5" y2="447.0" stroke="#111" stroke-width="1.15" stroke-dasharray="3.5 2.9"/>
<line x1="386.4" y1="294.6" x2="386.4" y2="455.8" stroke="#111" stroke-width="1.15" stroke-dasharray="3.5 2.9"/>
<line x1="393.8" y1="305.3" x2="393.8" y2="454.8" stroke="#111" stroke-width="1.15" stroke-dasharray="3.5 2.9"/>
<line x1="318.5" y1="349.4" x2="318.5" y2="433.0" stroke="#999" stroke-width="1.4"/>
<polygon points="318.5,342.4 321.8,353.4 318.5,350.7 315.2,353.4" fill="#999"/>
<line x1="229.7" y1="466.3" x2="398.0" y2="466.3" stroke="#111" stroke-width="1.6"/>
<line x1="229.7" y1="466.3" x2="229.7" y2="471.6" stroke="#111" stroke-width="1.3"/>
<line x1="260.9" y1="466.3" x2="260.9" y2="471.6" stroke="#111" stroke-width="1.3"/>
<line x1="291.2" y1="466.3" x2="291.2" y2="471.6" stroke="#111" stroke-width="1.3"/>
<line x1="344.4" y1="466.3" x2="344.4" y2="471.6" stroke="#111" stroke-width="1.3"/>
<line x1="383.0" y1="466.3" x2="383.0" y2="471.6" stroke="#111" stroke-width="1.3"/>
<line x1="245.7" y1="466.3" x2="245.7" y2="469.9" stroke="#111" stroke-width="1.3"/>
<line x1="276.2" y1="466.3" x2="276.2" y2="469.9" stroke="#111" stroke-width="1.3"/>
<line x1="325.5" y1="466.3" x2="325.5" y2="469.9" stroke="#111" stroke-width="1.3"/>
<line x1="363.4" y1="466.3" x2="363.4" y2="469.9" stroke="#111" stroke-width="1.3"/>
<polygon points="300.6,471.4 330.1,461.2 336.0,461.2 306.5,471.4" fill="#fff" fill-opacity="0.55"/>
<line x1="300.6" y1="471.4" x2="330.1" y2="461.2" stroke="#111" stroke-width="1.1"/>
<line x1="306.5" y1="471.4" x2="336.0" y2="461.2" stroke="#111" stroke-width="1.1"/>
<text x="230.2" y="485.2" font-size="12.6" fill="#000" text-anchor="middle" textLength="28.3" lengthAdjust="spacingAndGlyphs" font-family="Liberation Sans, sans-serif" font-weight="bold" >4000</text>
<text x="260.4" y="485.2" font-size="12.6" fill="#000" text-anchor="middle" textLength="28.9" lengthAdjust="spacingAndGlyphs" font-family="Liberation Sans, sans-serif" font-weight="bold" >3500</text>
<text x="291.1" y="485.2" font-size="12.6" fill="#000" text-anchor="middle" textLength="29.3" lengthAdjust="spacingAndGlyphs" font-family="Liberation Sans, sans-serif" font-weight="bold" >3000</text>
<text x="344.1" y="485.2" font-size="12.6" fill="#000" text-anchor="middle" textLength="27.7" lengthAdjust="spacingAndGlyphs" font-family="Liberation Sans, sans-serif" font-weight="bold" >2000</text>
<text x="382.5" y="485.2" font-size="12.6" fill="#000" text-anchor="middle" textLength="27.8" lengthAdjust="spacingAndGlyphs" font-family="Liberation Sans, sans-serif" font-weight="bold" >1500</text>
<text x="249.2" y="302.3" font-size="11.5" fill="#000" text-anchor="middle" textLength="25.3" lengthAdjust="spacingAndGlyphs" font-family="Liberation Sans, sans-serif" font-weight="bold" >3650</text>
<text x="266.9" y="318.5" font-size="11.5" fill="#000" text-anchor="middle" textLength="24.5" lengthAdjust="spacingAndGlyphs" font-family="Liberation Sans, sans-serif" font-weight="bold" >3590</text>
<text x="294.6" y="286.9" font-size="11.5" fill="#000" text-anchor="middle" textLength="25.3" lengthAdjust="spacingAndGlyphs" font-family="Liberation Sans, sans-serif" font-weight="bold" >2965</text>
<text x="310.4" y="300.5" font-size="11.5" fill="#000" text-anchor="middle" textLength="25.4" lengthAdjust="spacingAndGlyphs" font-family="Liberation Sans, sans-serif" font-weight="bold" >2855</text>
<text x="356.1" y="314.1" font-size="11.5" fill="#000" text-anchor="middle" textLength="24.8" lengthAdjust="spacingAndGlyphs" font-family="Liberation Sans, sans-serif" font-weight="bold" >1690</text>
<text x="372.6" y="300.5" font-size="11.5" fill="#000" text-anchor="middle" textLength="24.6" lengthAdjust="spacingAndGlyphs" font-family="Liberation Sans, sans-serif" font-weight="bold" >1580</text>
<text x="387.3" y="287.8" font-size="11.5" fill="#000" text-anchor="middle" textLength="24.8" lengthAdjust="spacingAndGlyphs" font-family="Liberation Sans, sans-serif" font-weight="bold" >1460</text>
<text x="401.9" y="305.0" font-size="11.5" fill="#000" text-anchor="middle" textLength="24.9" lengthAdjust="spacingAndGlyphs" font-family="Liberation Sans, sans-serif" font-weight="bold" >1370</text>
<text x="-1.0" y="18.6" font-size="29.5" font-family="Liberation Sans, sans-serif" font-weight="bold" fill="#000" textLength="15.2" lengthAdjust="spacingAndGlyphs">a</text>
<text x="212.1" y="20.3" font-size="28" font-family="Liberation Sans, sans-serif" font-weight="bold" fill="#000">b</text>
<text x="-0.6" y="274.2" font-size="28.5" font-family="Liberation Sans, sans-serif" font-weight="bold" fill="#000">c</text>
<text x="209.2" y="272.9" font-size="28" font-family="Liberation Sans, sans-serif" font-weight="bold" fill="#000">d</text>
<text x="416.0" y="19.3" font-size="27.8" font-family="Liberation Sans, sans-serif" font-weight="bold" fill="#000">e</text>
<text x="41.5" y="245.8" font-size="14.0" font-family="Liberation Sans, sans-serif" font-weight="bold" fill="#000" textLength="129.1" lengthAdjust="spacingAndGlyphs">Wavenumer (cm<tspan font-size="8.4" dy="-6.8">-1</tspan><tspan dy="6.8">)</tspan></text>
<text x="244.4" y="245.5" font-size="14.0" font-family="Liberation Sans, sans-serif" font-weight="bold" fill="#000" textLength="131.2" lengthAdjust="spacingAndGlyphs">Wavenumber (cm<tspan font-size="8.4" dy="-6.8">-1</tspan><tspan dy="6.8">)</tspan></text>
<text x="33.9" y="509.3" font-size="14.0" font-family="Liberation Sans, sans-serif" font-weight="bold" fill="#000" textLength="141.6" lengthAdjust="spacingAndGlyphs">Wavenumber (cm<tspan font-size="8.4" dy="-6.8">-1</tspan><tspan dy="6.8">)</tspan></text>
<text x="255.4" y="508.5" font-size="14.0" font-family="Liberation Sans, sans-serif" font-weight="bold" fill="#000" textLength="131.1" lengthAdjust="spacingAndGlyphs">Wavenumber (cm<tspan font-size="8.4" dy="-6.8">-1</tspan><tspan dy="6.8">)</tspan></text>
<line x1="470.6" y1="30.2" x2="470.6" y2="201.2" stroke="#111" stroke-width="1.6"/>
<line x1="465.0" y1="30.8" x2="470.6" y2="30.8" stroke="#111" stroke-width="1.5"/>
<line x1="467.0" y1="46.2" x2="470.6" y2="46.2" stroke="#111" stroke-width="1.5"/>
<line x1="465.0" y1="61.7" x2="470.6" y2="61.7" stroke="#111" stroke-width="1.5"/>
<line x1="467.0" y1="77.1" x2="470.6" y2="77.1" stroke="#111" stroke-width="1.5"/>
<line x1="465.0" y1="92.5" x2="470.6" y2="92.5" stroke="#111" stroke-width="1.5"/>
<line x1="467.0" y1="108.0" x2="470.6" y2="108.0" stroke="#111" stroke-width="1.5"/>
<line x1="465.0" y1="123.4" x2="470.6" y2="123.4" stroke="#111" stroke-width="1.5"/>
<line x1="467.0" y1="138.9" x2="470.6" y2="138.9" stroke="#111" stroke-width="1.5"/>
<line x1="465.0" y1="154.3" x2="470.6" y2="154.3" stroke="#111" stroke-width="1.5"/>
<line x1="467.0" y1="169.7" x2="470.6" y2="169.7" stroke="#111" stroke-width="1.5"/>
<line x1="465.0" y1="185.2" x2="470.6" y2="185.2" stroke="#111" stroke-width="1.5"/>
<line x1="467.0" y1="200.6" x2="470.6" y2="200.6" stroke="#111" stroke-width="1.5"/>
<text x="460.6" y="34.5" font-size="12.6" font-family="Liberation Sans, sans-serif" font-weight="bold" fill="#000" text-anchor="end">40</text>
<text x="460.6" y="65.4" font-size="12.6" font-family="Liberation Sans, sans-serif" font-weight="bold" fill="#000" text-anchor="end">20</text>
<text x="460.6" y="96.2" font-size="12.6" font-family="Liberation Sans, sans-serif" font-weight="bold" fill="#000" text-anchor="end">0</text>
<text x="460.6" y="127.1" font-size="12.6" font-family="Liberation Sans, sans-serif" font-weight="bold" fill="#000" text-anchor="end">-20</text>
<text x="460.6" y="158.0" font-size="12.6" font-family="Liberation Sans, sans-serif" font-weight="bold" fill="#000" text-anchor="end">-40</text>
<text x="460.6" y="188.9" font-size="12.6" font-family="Liberation Sans, sans-serif" font-weight="bold" fill="#000" text-anchor="end">-60</text>
<g transform="translate(437.4,160.6) rotate(-90)"><path fill-rule="evenodd" fill="#111" d="M0.2 0 L5.0 -10.3 L6.4 -10.3 L10.9 0 Z M2.2 -1.9 L5.3 -8.4 L8.2 -1.9 Z"/><text x="9.6" y="0" font-size="14" font-family="Liberation Sans, sans-serif" font-weight="bold" fill="#111" textLength="80.4" lengthAdjust="spacingAndGlyphs">E (kcal/mol)</text></g>
<line x1="481.3" y1="92.6" x2="494.3" y2="92.6" stroke="#111" stroke-width="2.0"/>
<line x1="494.3" y1="92.8" x2="504.1" y2="95.8" stroke="#4f8aec" stroke-width="1.2" stroke-dasharray="1.3 1.5"/>
<line x1="494.3" y1="92.8" x2="504.1" y2="112.5" stroke="#d35345" stroke-width="1.2" stroke-dasharray="1.3 1.5"/>
<line x1="518.0" y1="95.8" x2="528.7" y2="152.8" stroke="#4f8aec" stroke-width="1.2" stroke-dasharray="1.3 1.5"/>
<line x1="518.0" y1="112.5" x2="528.7" y2="170.0" stroke="#d35345" stroke-width="1.2" stroke-dasharray="1.3 1.5"/>
<line x1="541.3" y1="152.8" x2="552.3" y2="186.7" stroke="#4f8aec" stroke-width="1.2" stroke-dasharray="1.3 1.5"/>
<line x1="541.3" y1="170.0" x2="552.1" y2="51.1" stroke="#d35345" stroke-width="1.2" stroke-dasharray="1.3 1.5"/>
<line x1="565.4" y1="51.1" x2="576.8" y2="100.5" stroke="#d35345" stroke-width="1.2" stroke-dasharray="1.3 1.5"/>
<line x1="563.7" y1="186.7" x2="576.0" y2="146.7" stroke="#4f8aec" stroke-width="1.2" stroke-dasharray="1.3 1.5"/>
<line x1="588.8" y1="146.7" x2="599.4" y2="176.3" stroke="#4f8aec" stroke-width="1.2" stroke-dasharray="1.3 1.5"/>
<line x1="588.4" y1="100.5" x2="599.4" y2="179.6" stroke="#d35345" stroke-width="1.2" stroke-dasharray="1.3 1.5"/>
<line x1="611.9" y1="176.3" x2="622.9" y2="159.4" stroke="#4f8aec" stroke-width="1.2" stroke-dasharray="1.3 1.5"/>
<line x1="611.9" y1="179.6" x2="623.5" y2="105.2" stroke="#d35345" stroke-width="1.2" stroke-dasharray="1.3 1.5"/>
<line x1="635.2" y1="159.4" x2="646.2" y2="113.8" stroke="#4f8aec" stroke-width="1.2" stroke-dasharray="1.3 1.5"/>
<line x1="635.9" y1="105.2" x2="646.2" y2="114.8" stroke="#d35345" stroke-width="1.2" stroke-dasharray="1.3 1.5"/>
<line x1="659.3" y1="114.0" x2="667.2" y2="129.8" stroke="#4f8aec" stroke-width="1.2" stroke-dasharray="1.3 1.5"/>
<line x1="504.1" y1="95.8" x2="518.0" y2="95.8" stroke="#4f8aec" stroke-width="2.2"/>
<line x1="504.1" y1="112.5" x2="518.0" y2="112.5" stroke="#d35345" stroke-width="2.2"/>
<line x1="528.7" y1="152.8" x2="541.3" y2="152.8" stroke="#4f8aec" stroke-width="2.2"/>
<line x1="528.7" y1="170.0" x2="541.3" y2="170.0" stroke="#d35345" stroke-width="2.2"/>
<line x1="541.3" y1="170.0" x2="563.7" y2="170.0" stroke="#111" stroke-width="1.5"/>
<line x1="552.3" y1="186.7" x2="563.7" y2="186.7" stroke="#4f8aec" stroke-width="2.2"/>
<line x1="563.7" y1="186.7" x2="587.4" y2="186.7" stroke="#111" stroke-width="1.5"/>
<line x1="552.1" y1="51.1" x2="565.4" y2="51.1" stroke="#d35345" stroke-width="2.2"/>
<line x1="576.8" y1="100.5" x2="588.4" y2="100.5" stroke="#d35345" stroke-width="2.2"/>
<line x1="576.0" y1="146.7" x2="588.8" y2="146.7" stroke="#4f8aec" stroke-width="2.2"/>
<line x1="599.4" y1="176.2" x2="611.9" y2="176.2" stroke="#4f8aec" stroke-width="2.2"/>
<line x1="599.4" y1="179.6" x2="611.9" y2="179.6" stroke="#d35345" stroke-width="2.2"/>
<line x1="611.9" y1="179.6" x2="634.5" y2="179.6" stroke="#111" stroke-width="1.5"/>
<line x1="622.9" y1="159.4" x2="635.2" y2="159.4" stroke="#4f8aec" stroke-width="2.2"/>
<line x1="635.2" y1="159.4" x2="657.4" y2="159.4" stroke="#111" stroke-width="1.5"/>
<line x1="623.5" y1="105.2" x2="635.9" y2="105.2" stroke="#d35345" stroke-width="2.2"/>
<line x1="646.2" y1="115.0" x2="659.3" y2="115.0" stroke="#d35345" stroke-width="2.2"/>
<line x1="646.2" y1="113.4" x2="659.3" y2="113.4" stroke="#4f8aec" stroke-width="1.4"/>
<line x1="671.4" y1="136.5" x2="683.1" y2="136.5" stroke="#4f8aec" stroke-width="2.2"/>
<line x1="559.1" y1="55.6" x2="559.1" y2="98.3" stroke="#d35345" stroke-width="1.3"/>
<line x1="559.1" y1="117.6" x2="559.1" y2="166.3" stroke="#d35345" stroke-width="1.3"/>
<path d="M559.1 51.6 L561.2 58.1 L559.1 56.8 L557.0 58.1 Z" fill="#d35345"/>
<path d="M559.1 170.3 L561.2 163.8 L559.1 165.1 L557.0 163.8 Z" fill="#d35345"/>
<line x1="582.5" y1="151.2" x2="582.5" y2="159.5" stroke="#4f8aec" stroke-width="1.3"/>
<line x1="582.5" y1="177.0" x2="582.5" y2="183.0" stroke="#4f8aec" stroke-width="1.3"/>
<path d="M582.5 147.2 L584.6 153.7 L582.5 152.4 L580.4 153.7 Z" fill="#4f8aec"/>
<path d="M582.5 187.0 L584.6 180.5 L582.5 181.8 L580.4 180.5 Z" fill="#4f8aec"/>
<line x1="628.9" y1="109.7" x2="628.9" y2="130.5" stroke="#d35345" stroke-width="1.3"/>
<line x1="628.9" y1="149.5" x2="628.9" y2="175.8" stroke="#d35345" stroke-width="1.3"/>
<path d="M628.9 105.7 L631.0 112.2 L628.9 110.9 L626.8 112.2 Z" fill="#d35345"/>
<path d="M628.9 179.8 L631.0 173.3 L628.9 174.6 L626.8 173.3 Z" fill="#d35345"/>
<line x1="653.2" y1="118.5" x2="653.2" y2="130.5" stroke="#4f8aec" stroke-width="1.3"/>
<line x1="653.2" y1="149.5" x2="653.2" y2="155.9" stroke="#4f8aec" stroke-width="1.3"/>
<path d="M653.2 114.5 L655.3 121.0 L653.2 119.7 L651.1 121.0 Z" fill="#4f8aec"/>
<path d="M653.2 159.9 L655.3 153.4 L653.2 154.7 L651.1 153.4 Z" fill="#4f8aec"/>
<text x="510.4" y="89.0" font-size="11.5" font-family="Liberation Sans, sans-serif" font-weight="bold" fill="#4f8aec" text-anchor="middle" textLength="13.6" lengthAdjust="spacingAndGlyphs">R1</text>
<text x="508.9" y="128.2" font-size="11.5" font-family="Liberation Sans, sans-serif" font-weight="bold" fill="#d35345" text-anchor="middle" textLength="14.0" lengthAdjust="spacingAndGlyphs">R1'</text>
<text x="535.7" y="147.2" font-size="11.5" font-family="Liberation Sans, sans-serif" font-weight="bold" fill="#4f8aec" text-anchor="middle" textLength="13.4" lengthAdjust="spacingAndGlyphs">R2</text>
<text x="535.8" y="186.0" font-size="11.5" font-family="Liberation Sans, sans-serif" font-weight="bold" fill="#d35345" text-anchor="middle" textLength="16.0" lengthAdjust="spacingAndGlyphs">R2'</text>
<text x="559.5" y="202.5" font-size="11.5" font-family="Liberation Sans, sans-serif" font-weight="bold" fill="#4f8aec" text-anchor="middle" textLength="14.5" lengthAdjust="spacingAndGlyphs">R3</text>
<text x="562.2" y="45.3" font-size="11.5" font-family="Liberation Sans, sans-serif" font-weight="bold" fill="#d35345" text-anchor="middle" textLength="24.4" lengthAdjust="spacingAndGlyphs">TS1'</text>
<text x="563.8" y="111.2" font-size="11.5" font-family="Liberation Sans, sans-serif" font-weight="bold" fill="#d35345" text-anchor="middle" textLength="23.3" lengthAdjust="spacingAndGlyphs">77.5</text>
<text x="586.3" y="93.0" font-size="11.5" font-family="Liberation Sans, sans-serif" font-weight="bold" fill="#d35345" text-anchor="middle" textLength="16.9" lengthAdjust="spacingAndGlyphs">P1'</text>
<text x="581.7" y="140.4" font-size="11.5" font-family="Liberation Sans, sans-serif" font-weight="bold" fill="#4f8aec" text-anchor="middle" textLength="19.2" lengthAdjust="spacingAndGlyphs">TS1</text>
<text x="583.2" y="172.3" font-size="11.5" font-family="Liberation Sans, sans-serif" font-weight="bold" fill="#4f8aec" text-anchor="middle" textLength="21.3" lengthAdjust="spacingAndGlyphs">26.3</text>
<text x="606.4" y="169.8" font-size="11.5" font-family="Liberation Sans, sans-serif" font-weight="bold" fill="#4f8aec" text-anchor="middle" textLength="12.6" lengthAdjust="spacingAndGlyphs">P1</text>
<text x="609.6" y="194.8" font-size="11.5" font-family="Liberation Sans, sans-serif" font-weight="bold" fill="#d35345" text-anchor="middle" textLength="15.5" lengthAdjust="spacingAndGlyphs">R3'</text>
<text x="629.4" y="99.9" font-size="11.5" font-family="Liberation Sans, sans-serif" font-weight="bold" fill="#d35345" text-anchor="middle" textLength="24.2" lengthAdjust="spacingAndGlyphs">TS2'</text>
<text x="634.1" y="143.6" font-size="11.5" font-family="Liberation Sans, sans-serif" font-weight="bold" fill="#d35345" text-anchor="middle" textLength="21.8" lengthAdjust="spacingAndGlyphs">48.4</text>
<text x="653.0" y="108.5" font-size="11.5" font-family="Liberation Sans, sans-serif" font-weight="bold" fill="#4f8aec" text-anchor="middle" textLength="19.0" lengthAdjust="spacingAndGlyphs">TS2</text>
<text x="671.8" y="116.9" font-size="11.5" font-family="Liberation Sans, sans-serif" font-weight="bold" fill="#d35345" text-anchor="middle" textLength="16.4" lengthAdjust="spacingAndGlyphs">P2'</text>
<text x="679.0" y="131.9" font-size="11.5" font-family="Liberation Sans, sans-serif" font-weight="bold" fill="#4f8aec" text-anchor="middle" textLength="13.7" lengthAdjust="spacingAndGlyphs">P2</text>
<text x="639.5" y="173.0" font-size="11.5" font-family="Liberation Sans, sans-serif" font-weight="bold" fill="#4f8aec" text-anchor="middle" textLength="14.1" lengthAdjust="spacingAndGlyphs">R4</text>
<text x="658.0" y="143.6" font-size="11.5" font-family="Liberation Sans, sans-serif" font-weight="bold" fill="#4f8aec" text-anchor="middle" textLength="20.7" lengthAdjust="spacingAndGlyphs">30.0</text>
<rect x="520" y="310.6" width="15" height="9.8" fill="#4f8aec"/>
<text x="543" y="319.9" font-size="12.5" font-family="Liberation Sans, sans-serif" font-weight="bold" fill="#4f8aec" textLength="85.5" lengthAdjust="spacingAndGlyphs">[FeO]<tspan font-size="9.5" dy="-4.6">+</tspan><tspan dy="4.6"> at G-site</tspan></text>
<rect x="520.9" y="440.2" width="15.2" height="9.4" fill="#d35345"/>
<text x="546" y="449.2" font-size="12.5" font-family="Liberation Sans, sans-serif" font-weight="bold" fill="#d35345" textLength="72" lengthAdjust="spacingAndGlyphs">Fe<tspan font-size="8" dy="-5">3+</tspan><tspan dy="5"> at B-site</tspan></text>
<defs>
<radialGradient id="gH" cx="0.35" cy="0.35" r="0.7"><stop offset="0" stop-color="#ffffff"/><stop offset="0.6" stop-color="#d8d8d8"/><stop offset="1" stop-color="#7a7a7a"/></radialGradient>
<radialGradient id="gO" cx="0.35" cy="0.35" r="0.7"><stop offset="0" stop-color="#ff7070"/><stop offset="0.45" stop-color="#e80000"/><stop offset="1" stop-color="#8a0000"/></radialGradient>
<radialGradient id="gSi" cx="0.35" cy="0.35" r="0.7"><stop offset="0" stop-color="#d8e2e2"/><stop offset="0.5" stop-color="#8fa3a3"/><stop offset="1" stop-color="#4e6060"/></radialGradient>
<radialGradient id="gAl" cx="0.35" cy="0.35" r="0.7"><stop offset="0" stop-color="#f6e6e6"/><stop offset="0.5" stop-color="#d8b0b0"/><stop offset="1" stop-color="#8a6868"/></radialGradient>
<radialGradient id="gFe" cx="0.35" cy="0.35" r="0.7"><stop offset="0" stop-color="#c8c8f2"/><stop offset="0.5" stop-color="#8484c8"/><stop offset="1" stop-color="#4a4a80"/></radialGradient>
</defs>
<circle cx="490.5" cy="473" r="6.3" fill="url(#gH)"/>
<text x="498.2" y="477.4" font-size="11.5" font-family="Liberation Sans, sans-serif" font-weight="bold" fill="#111">H</text>
<circle cx="523.0" cy="473" r="6.3" fill="url(#gO)"/>
<text x="531.0" y="477.4" font-size="11.5" font-family="Liberation Sans, sans-serif" font-weight="bold" fill="#111">O</text>
<circle cx="557.3" cy="473" r="6.3" fill="url(#gSi)"/>
<text x="566.3" y="477.4" font-size="11.5" font-family="Liberation Sans, sans-serif" font-weight="bold" fill="#111">Si</text>
<circle cx="593.3" cy="473" r="6.3" fill="url(#gAl)"/>
<text x="602.3" y="477.4" font-size="11.5" font-family="Liberation Sans, sans-serif" font-weight="bold" fill="#111">Al</text>
<circle cx="632.2" cy="473" r="6.3" fill="url(#gFe)"/>
<text x="640.3" y="477.4" font-size="11.5" font-family="Liberation Sans, sans-serif" font-weight="bold" fill="#111">Fe</text>
<line x1="555.2" y1="241.5" x2="548.0" y2="224.0" stroke="#f0b4b4" stroke-width="0.65"/>
<line x1="548.0" y1="224.0" x2="546.8" y2="218.1" stroke="#cfd8d8" stroke-width="0.65"/>
<line x1="546.8" y1="218.1" x2="537.2" y2="213.8" stroke="#cfd8d8" stroke-width="0.65"/>
<line x1="546.8" y1="218.1" x2="555.6" y2="211.1" stroke="#cfd8d8" stroke-width="0.65"/>
<line x1="546.8" y1="218.1" x2="548.0" y2="222.5" stroke="#cfd8d8" stroke-width="0.65"/>
<line x1="581.9" y1="238.8" x2="587.1" y2="226.0" stroke="#f0b4b4" stroke-width="0.65"/>
<line x1="587.1" y1="226.0" x2="586.3" y2="215.5" stroke="#cfd8d8" stroke-width="0.65"/>
<line x1="586.3" y1="215.5" x2="577.5" y2="210.3" stroke="#cfd8d8" stroke-width="0.65"/>
<line x1="586.3" y1="215.5" x2="595.9" y2="209.4" stroke="#cfd8d8" stroke-width="0.65"/>
<line x1="539.5" y1="248.0" x2="535.4" y2="236.6" stroke="#f0b4b4" stroke-width="0.65"/>
<line x1="535.4" y1="236.6" x2="523.1" y2="230.4" stroke="#cfd8d8" stroke-width="0.65"/>
<line x1="523.1" y1="230.4" x2="517.0" y2="238.3" stroke="#cfd8d8" stroke-width="0.65"/>
<line x1="523.1" y1="230.4" x2="523.1" y2="222.5" stroke="#cfd8d8" stroke-width="0.65"/>
<line x1="523.1" y1="230.4" x2="530.0" y2="233.0" stroke="#cfd8d8" stroke-width="0.65"/>
<line x1="591.0" y1="249.2" x2="595.9" y2="239.2" stroke="#f0b4b4" stroke-width="0.65"/>
<line x1="595.9" y1="239.2" x2="605.5" y2="234.8" stroke="#cfd8d8" stroke-width="0.65"/>
<line x1="605.5" y1="234.8" x2="613.4" y2="230.4" stroke="#cfd8d8" stroke-width="0.65"/>
<line x1="605.5" y1="234.8" x2="604.7" y2="226.0" stroke="#cfd8d8" stroke-width="0.65"/>
<line x1="605.5" y1="234.8" x2="611.7" y2="242.7" stroke="#cfd8d8" stroke-width="0.65"/>
<line x1="539.5" y1="248.0" x2="529.3" y2="255.8" stroke="#f0b4b4" stroke-width="0.65"/>
<line x1="529.3" y1="255.8" x2="519.6" y2="262.0" stroke="#cfd8d8" stroke-width="0.65"/>
<line x1="519.6" y1="262.0" x2="513.5" y2="255.8" stroke="#cfd8d8" stroke-width="0.65"/>
<line x1="519.6" y1="262.0" x2="513.5" y2="267.2" stroke="#cfd8d8" stroke-width="0.65"/>
<line x1="519.6" y1="262.0" x2="525.8" y2="268.1" stroke="#cfd8d8" stroke-width="0.65"/>
<line x1="591.0" y1="249.2" x2="599.4" y2="261.1" stroke="#f0b4b4" stroke-width="0.65"/>
<line x1="599.4" y1="261.1" x2="610.8" y2="269.9" stroke="#cfd8d8" stroke-width="0.65"/>
<line x1="610.8" y1="269.9" x2="620.4" y2="265.5" stroke="#cfd8d8" stroke-width="0.65"/>
<line x1="610.8" y1="269.9" x2="608.2" y2="275.1" stroke="#cfd8d8" stroke-width="0.65"/>
<line x1="548.9" y1="257.6" x2="547.7" y2="268.1" stroke="#f0b4b4" stroke-width="0.65"/>
<line x1="547.7" y1="268.1" x2="545.9" y2="283.9" stroke="#cfd8d8" stroke-width="0.65"/>
<line x1="545.9" y1="283.9" x2="536.3" y2="287.4" stroke="#cfd8d8" stroke-width="0.65"/>
<line x1="545.9" y1="283.9" x2="554.7" y2="290.9" stroke="#cfd8d8" stroke-width="0.65"/>
<line x1="574.5" y1="257.1" x2="576.6" y2="265.5" stroke="#f0b4b4" stroke-width="0.65"/>
<line x1="576.6" y1="265.5" x2="583.6" y2="281.3" stroke="#cfd8d8" stroke-width="0.65"/>
<line x1="583.6" y1="281.3" x2="578.4" y2="290.9" stroke="#cfd8d8" stroke-width="0.65"/>
<line x1="583.6" y1="281.3" x2="594.2" y2="281.3" stroke="#cfd8d8" stroke-width="0.65"/>
<line x1="555.2" y1="241.5" x2="565.2" y2="242.3" stroke="#cfd8d8" stroke-width="0.65"/>
<line x1="569.3" y1="239.7" x2="581.9" y2="238.8" stroke="#cfd8d8" stroke-width="0.65"/>
<line x1="539.5" y1="248.0" x2="551.7" y2="248.0" stroke="#cfd8d8" stroke-width="0.65"/>
<line x1="551.7" y1="248.0" x2="555.2" y2="241.5" stroke="#cfd8d8" stroke-width="0.65"/>
<line x1="539.8" y1="254.6" x2="548.9" y2="257.6" stroke="#cfd8d8" stroke-width="0.65"/>
<line x1="548.9" y1="257.6" x2="560.5" y2="254.6" stroke="#cfd8d8" stroke-width="0.65"/>
<line x1="560.5" y1="254.6" x2="574.5" y2="257.1" stroke="#cfd8d8" stroke-width="0.65"/>
<line x1="574.5" y1="257.1" x2="578.9" y2="252.0" stroke="#cfd8d8" stroke-width="0.65"/>
<line x1="578.9" y1="252.0" x2="591.0" y2="249.2" stroke="#cfd8d8" stroke-width="0.65"/>
<line x1="581.9" y1="238.8" x2="589.2" y2="246.2" stroke="#cfd8d8" stroke-width="0.65"/>
<line x1="564.3" y1="229.2" x2="565.2" y2="242.3" stroke="#cfd8d8" stroke-width="0.65"/>
<line x1="586.0" y1="244.0" x2="600.0" y2="244.0" stroke="#e2e8e8" stroke-width="0.65"/>
<line x1="583.0" y1="244.0" x2="583.0" y2="262.0" stroke="#e2e8e8" stroke-width="0.65"/>
<circle cx="564.3" cy="229.2" r="3.4" fill="url(#gO)"/>
<circle cx="555.2" cy="241.5" r="3.8" fill="url(#gSi)"/>
<circle cx="581.9" cy="238.8" r="3.8" fill="url(#gSi)"/>
<circle cx="539.5" cy="248.0" r="3.8" fill="url(#gSi)"/>
<circle cx="548.9" cy="257.6" r="3.8" fill="url(#gSi)"/>
<circle cx="591.0" cy="249.2" r="3.8" fill="url(#gSi)"/>
<circle cx="565.2" cy="242.3" r="3.8" fill="url(#gFe)"/>
<circle cx="569.3" cy="239.7" r="3.4" fill="url(#gO)"/>
<circle cx="551.7" cy="248.0" r="3.4" fill="url(#gO)"/>
<circle cx="539.8" cy="254.6" r="3.4" fill="url(#gO)"/>
<circle cx="560.5" cy="254.6" r="3.4" fill="url(#gO)"/>
<circle cx="574.5" cy="257.1" r="3.8" fill="url(#gAl)"/>
<circle cx="578.9" cy="252.0" r="3.4" fill="url(#gO)"/>
<circle cx="589.2" cy="246.2" r="3.4" fill="url(#gO)"/>
<line x1="536.1" y1="368.5" x2="528.0" y2="355.0" stroke="#f0b4b4" stroke-width="0.65"/>
<line x1="528.0" y1="355.0" x2="524.0" y2="347.0" stroke="#cfd8d8" stroke-width="0.65"/>
<line x1="524.0" y1="347.0" x2="515.0" y2="352.0" stroke="#cfd8d8" stroke-width="0.65"/>
<line x1="524.0" y1="347.0" x2="527.0" y2="340.0" stroke="#cfd8d8" stroke-width="0.65"/>
<line x1="524.0" y1="347.0" x2="530.0" y2="350.0" stroke="#cfd8d8" stroke-width="0.65"/>
<line x1="536.1" y1="368.5" x2="524.0" y2="375.0" stroke="#f0b4b4" stroke-width="0.65"/>
<line x1="524.0" y1="375.0" x2="514.0" y2="376.0" stroke="#cfd8d8" stroke-width="0.65"/>
<line x1="524.0" y1="375.0" x2="522.0" y2="368.0" stroke="#cfd8d8" stroke-width="0.65"/>
<line x1="524.0" y1="375.0" x2="521.0" y2="381.0" stroke="#cfd8d8" stroke-width="0.65"/>
<line x1="556.4" y1="373.1" x2="554.0" y2="355.0" stroke="#f0b4b4" stroke-width="0.65"/>
<line x1="554.0" y1="355.0" x2="552.0" y2="348.0" stroke="#cfd8d8" stroke-width="0.65"/>
<line x1="552.0" y1="348.0" x2="545.0" y2="352.0" stroke="#cfd8d8" stroke-width="0.65"/>
<line x1="552.0" y1="348.0" x2="556.0" y2="342.0" stroke="#cfd8d8" stroke-width="0.65"/>
<line x1="578.2" y1="371.8" x2="580.0" y2="355.0" stroke="#f0b4b4" stroke-width="0.65"/>
<line x1="580.0" y1="355.0" x2="583.0" y2="345.0" stroke="#cfd8d8" stroke-width="0.65"/>
<line x1="583.0" y1="345.0" x2="577.0" y2="341.0" stroke="#cfd8d8" stroke-width="0.65"/>
<line x1="583.0" y1="345.0" x2="591.0" y2="345.0" stroke="#cfd8d8" stroke-width="0.65"/>
<line x1="595.1" y1="368.0" x2="596.0" y2="352.0" stroke="#f0b4b4" stroke-width="0.65"/>
<line x1="596.0" y1="352.0" x2="597.0" y2="345.0" stroke="#cfd8d8" stroke-width="0.65"/>
<line x1="597.0" y1="345.0" x2="590.0" y2="342.0" stroke="#cfd8d8" stroke-width="0.65"/>
<line x1="597.0" y1="345.0" x2="603.0" y2="342.0" stroke="#cfd8d8" stroke-width="0.65"/>
<line x1="595.1" y1="368.0" x2="610.0" y2="362.0" stroke="#cfd8d8" stroke-width="0.65"/>
<line x1="596.4" y1="378.1" x2="608.0" y2="378.0" stroke="#f0b4b4" stroke-width="0.65"/>
<line x1="608.0" y1="378.0" x2="617.0" y2="379.0" stroke="#cfd8d8" stroke-width="0.65"/>
<line x1="617.0" y1="379.0" x2="612.0" y2="372.0" stroke="#cfd8d8" stroke-width="0.65"/>
<line x1="617.0" y1="379.0" x2="614.0" y2="388.0" stroke="#cfd8d8" stroke-width="0.65"/>
<line x1="596.4" y1="378.1" x2="606.0" y2="392.0" stroke="#f0b4b4" stroke-width="0.65"/>
<line x1="606.0" y1="392.0" x2="610.0" y2="400.0" stroke="#cfd8d8" stroke-width="0.65"/>
<line x1="610.0" y1="400.0" x2="618.0" y2="397.0" stroke="#cfd8d8" stroke-width="0.65"/>
<line x1="610.0" y1="400.0" x2="607.0" y2="405.0" stroke="#cfd8d8" stroke-width="0.65"/>
<line x1="541.4" y1="381.9" x2="535.0" y2="395.0" stroke="#f0b4b4" stroke-width="0.65"/>
<line x1="535.0" y1="395.0" x2="530.0" y2="402.0" stroke="#cfd8d8" stroke-width="0.65"/>
<line x1="530.0" y1="402.0" x2="520.0" y2="400.0" stroke="#cfd8d8" stroke-width="0.65"/>
<line x1="530.0" y1="402.0" x2="533.0" y2="410.0" stroke="#cfd8d8" stroke-width="0.65"/>
<line x1="558.4" y1="396.4" x2="560.0" y2="405.0" stroke="#f0b4b4" stroke-width="0.65"/>
<line x1="560.0" y1="405.0" x2="558.0" y2="415.0" stroke="#cfd8d8" stroke-width="0.65"/>
<line x1="558.0" y1="415.0" x2="550.0" y2="418.0" stroke="#cfd8d8" stroke-width="0.65"/>
<line x1="558.0" y1="415.0" x2="566.0" y2="419.0" stroke="#cfd8d8" stroke-width="0.65"/>
<line x1="558.4" y1="396.4" x2="548.0" y2="400.0" stroke="#cfd8d8" stroke-width="0.65"/>
<line x1="548.0" y1="400.0" x2="546.0" y2="406.0" stroke="#cfd8d8" stroke-width="0.65"/>
<line x1="581.2" y1="394.6" x2="586.0" y2="405.0" stroke="#f0b4b4" stroke-width="0.65"/>
<line x1="586.0" y1="405.0" x2="591.0" y2="412.0" stroke="#cfd8d8" stroke-width="0.65"/>
<line x1="591.0" y1="412.0" x2="586.0" y2="419.0" stroke="#cfd8d8" stroke-width="0.65"/>
<line x1="591.0" y1="412.0" x2="600.0" y2="410.0" stroke="#cfd8d8" stroke-width="0.65"/>
<line x1="581.2" y1="394.6" x2="572.0" y2="400.0" stroke="#cfd8d8" stroke-width="0.65"/>
<line x1="536.1" y1="368.5" x2="547.8" y2="366.7" stroke="#cfd8d8" stroke-width="0.65"/>
<line x1="547.8" y1="366.7" x2="556.4" y2="373.1" stroke="#cfd8d8" stroke-width="0.65"/>
<line x1="556.4" y1="373.1" x2="567.3" y2="373.6" stroke="#cfd8d8" stroke-width="0.65"/>
<line x1="567.3" y1="373.6" x2="578.2" y2="371.8" stroke="#cfd8d8" stroke-width="0.65"/>
<line x1="578.2" y1="371.8" x2="583.7" y2="373.1" stroke="#cfd8d8" stroke-width="0.65"/>
<line x1="583.7" y1="373.1" x2="595.1" y2="368.0" stroke="#cfd8d8" stroke-width="0.65"/>
<line x1="536.9" y1="377.6" x2="541.4" y2="381.9" stroke="#cfd8d8" stroke-width="0.65"/>
<line x1="541.4" y1="381.9" x2="552.1" y2="384.5" stroke="#cfd8d8" stroke-width="0.65"/>
<line x1="552.1" y1="384.5" x2="558.4" y2="396.4" stroke="#cfd8d8" stroke-width="0.65"/>
<line x1="558.4" y1="396.4" x2="570.6" y2="390.8" stroke="#cfd8d8" stroke-width="0.65"/>
<line x1="570.6" y1="390.8" x2="581.2" y2="394.6" stroke="#cfd8d8" stroke-width="0.65"/>
<line x1="581.2" y1="394.6" x2="585.0" y2="382.7" stroke="#cfd8d8" stroke-width="0.65"/>
<line x1="585.0" y1="382.7" x2="596.4" y2="378.1" stroke="#cfd8d8" stroke-width="0.65"/>
<line x1="600.2" y1="373.6" x2="596.4" y2="378.1" stroke="#cfd8d8" stroke-width="0.65"/>
<circle cx="536.1" cy="368.5" r="3.8" fill="url(#gSi)"/>
<circle cx="547.8" cy="366.7" r="3.4" fill="url(#gO)"/>
<circle cx="556.4" cy="373.1" r="3.8" fill="url(#gAl)"/>
<circle cx="567.3" cy="373.6" r="3.4" fill="url(#gO)"/>
<circle cx="578.2" cy="371.8" r="3.8" fill="url(#gSi)"/>
<circle cx="583.7" cy="373.1" r="3.4" fill="url(#gO)"/>
<circle cx="595.1" cy="368.0" r="3.8" fill="url(#gAl)"/>
<circle cx="600.2" cy="373.6" r="3.4" fill="url(#gO)"/>
<circle cx="596.4" cy="378.1" r="3.8" fill="url(#gSi)"/>
<circle cx="585.0" cy="382.7" r="3.4" fill="url(#gO)"/>
<circle cx="574.1" cy="379.4" r="3.8" fill="url(#gFe)"/>
<circle cx="536.9" cy="377.6" r="3.4" fill="url(#gO)"/>
<circle cx="541.4" cy="381.9" r="3.8" fill="url(#gSi)"/>
<circle cx="552.1" cy="384.5" r="3.4" fill="url(#gO)"/>
<circle cx="558.4" cy="396.4" r="3.8" fill="url(#gAl)"/>
<circle cx="570.6" cy="390.8" r="3.4" fill="url(#gO)"/>
<circle cx="581.2" cy="394.6" r="3.8" fill="url(#gSi)"/>
</svg>
</body></html>
